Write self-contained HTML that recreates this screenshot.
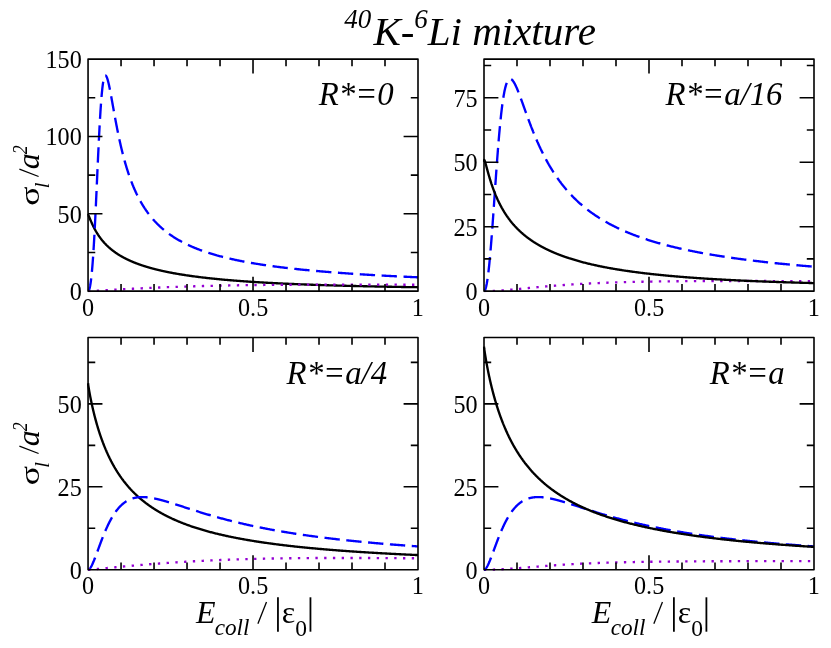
<!DOCTYPE html>
<html><head><meta charset="utf-8"><title>40K-6Li mixture</title>
<style>html,body{margin:0;padding:0;background:#fff}svg{display:block;will-change:transform}text{font-family:"Liberation Serif",serif;fill:#000}.i{font-style:italic}.t{font-size:26px}</style></head><body>
<svg width="831" height="648" viewBox="0 0 831 648">
<rect width="831" height="648" fill="#fff"/>
<clipPath id="c0"><rect x="86.85" y="57.9" width="332.35" height="234.45"/></clipPath>
<g clip-path="url(#c0)" fill="none" stroke-width="2.35" stroke-linejoin="round">
<path d="M88.05 215.49 L88.26 215.08 L88.46 215.38 L88.67 215.78 L88.88 216.23 L89.08 216.71 L89.29 217.2 L89.5 217.69 L89.7 218.19 L89.91 218.7 L90.12 219.19 L90.32 219.69 L90.53 220.19 L90.74 220.68 L90.94 221.16 L91.15 221.64 L91.36 222.12 L91.56 222.58 L91.77 223.05 L91.98 223.51 L92.18 223.96 L92.39 224.41 L92.6 224.85 L92.8 225.29 L93.01 225.72 L93.22 226.14 L93.43 226.56 L93.63 226.97 L93.84 227.38 L94.05 227.79 L94.25 228.18 L94.46 228.58 L94.67 228.97 L94.87 229.35 L95.08 229.73 L95.29 230.1 L95.49 230.47 L95.7 230.83 L95.91 231.19 L96.11 231.55 L96.32 231.9 L96.53 232.25 L96.73 232.59 L96.94 232.93 L97.15 233.26 L97.35 233.59 L97.56 233.92 L97.77 234.24 L97.97 234.56 L98.18 234.87 L98.39 235.18 L98.59 235.49 L98.8 235.79 L99.01 236.09 L99.21 236.39 L99.42 236.68 L99.63 236.97 L99.83 237.26 L100.04 237.54 L100.25 237.83 L100.45 238.1 L100.66 238.38 L100.87 238.65 L101.07 238.92 L101.28 239.18 L101.49 239.45 L101.69 239.71 L101.9 239.96 L102.11 240.22 L102.31 240.47 L102.52 240.72 L102.73 240.97 L102.93 241.21 L103.14 241.46 L103.35 241.7 L103.56 241.93 L103.76 242.17 L103.97 242.4 L104.18 242.63 L104.38 242.86 L104.59 243.09 L104.8 243.31 L105 243.53 L105.21 243.75 L105.42 243.97 L105.62 244.18 L105.83 244.4 L106.04 244.61 L106.24 244.82 L106.45 245.03 L106.66 245.23 L106.86 245.43 L107.07 245.64 L107.28 245.84 L107.48 246.04 L107.69 246.23 L107.9 246.43 L108.1 246.62 L108.31 246.81 L108.52 247 L108.72 247.19 L108.93 247.38 L109.14 247.56 L109.34 247.75 L109.55 247.93 L109.76 248.11 L109.96 248.29 L110.17 248.46 L110.38 248.64 L110.58 248.81 L110.79 248.99 L111 249.16 L111.2 249.33 L111.41 249.5 L111.62 249.67 L111.82 249.83 L112.03 250 L112.24 250.16 L112.44 250.32 L112.65 250.48 L112.86 250.64 L113.07 250.8 L113.27 250.96 L113.48 251.12 L113.69 251.27 L113.89 251.43 L114.1 251.58 L114.31 251.73 L114.51 251.88 L114.72 252.03 L114.93 252.18 L115.13 252.32 L115.34 252.47 L115.55 252.62 L115.75 252.76 L115.96 252.9 L116.17 253.04 L116.37 253.19 L116.58 253.33 L116.79 253.46 L116.99 253.6 L117.2 253.74 L117.41 253.87 L117.61 254.01 L117.82 254.14 L118.03 254.28 L118.23 254.41 L118.44 254.54 L118.65 254.67 L118.85 254.8 L119.06 254.93 L119.27 255.06 L119.47 255.18 L119.68 255.31 L119.89 255.43 L120.09 255.56 L120.3 255.68 L120.51 255.81 L120.71 255.93 L120.92 256.05 L121.13 256.17 L121.33 256.29 L121.54 256.41 L121.75 256.53 L121.95 256.64 L122.16 256.76 L122.37 256.88 L122.57 256.99 L122.78 257.1 L122.99 257.22 L123.2 257.33 L123.4 257.44 L123.61 257.55 L123.82 257.67 L124.02 257.78 L124.23 257.89 L124.44 257.99 L124.64 258.1 L124.85 258.21 L125.06 258.32 L125.26 258.42 L125.47 258.53 L125.68 258.63 L125.88 258.74 L126.09 258.84 L126.3 258.95 L126.5 259.05 L126.71 259.15 L126.92 259.25 L127.12 259.35 L127.33 259.45 L127.54 259.55 L127.74 259.65 L127.95 259.75 L128.16 259.85 L128.36 259.94 L128.57 260.04 L128.78 260.14 L128.98 260.23 L129.19 260.33 L129.4 260.42 L129.6 260.52 L129.81 260.61 L130.02 260.7 L130.22 260.8 L130.43 260.89 L130.64 260.98 L130.84 261.07 L131.05 261.16 L131.26 261.25 L131.46 261.34 L131.67 261.43 L131.88 261.52 L132.08 261.61 L132.29 261.69 L132.5 261.78 L132.7 261.87 L132.91 261.96 L133.12 262.04 L133.33 262.13 L133.53 262.21 L133.74 262.3 L133.95 262.38 L134.15 262.46 L134.36 262.55 L134.57 262.63 L134.77 262.71 L134.98 262.79 L135.19 262.88 L135.39 262.96 L135.6 263.04 L135.81 263.12 L136.01 263.2 L136.22 263.28 L136.43 263.36 L136.63 263.43 L136.84 263.51 L137.05 263.59 L137.25 263.67 L137.46 263.75 L137.67 263.82 L137.87 263.9 L138.08 263.97 L138.29 264.05 L138.49 264.13 L138.7 264.2 L138.91 264.27 L139.11 264.35 L139.32 264.42 L139.53 264.5 L139.73 264.57 L139.94 264.64 L140.15 264.71 L140.35 264.79 L140.56 264.86 L140.77 264.93 L140.97 265 L141.18 265.07 L141.39 265.14 L141.59 265.21 L141.8 265.28 L142.01 265.35 L142.21 265.42 L142.42 265.49 L142.63 265.56 L142.83 265.63 L143.04 265.69 L143.25 265.76 L143.46 265.83 L143.66 265.89 L143.87 265.96 L144.08 266.03 L144.28 266.09 L144.49 266.16 L144.7 266.22 L144.9 266.29 L145.11 266.35 L145.32 266.42 L145.52 266.48 L145.73 266.55 L145.94 266.61 L146.14 266.67 L146.35 266.74 L146.56 266.8 L146.76 266.86 L146.97 266.93 L147.18 266.99 L147.38 267.05 L147.59 267.11 L147.8 267.17 L148 267.23 L148.21 267.29 L148.42 267.35 L148.62 267.41 L148.83 267.47 L149.04 267.53 L149.24 267.59 L149.45 267.65 L149.66 267.71 L149.86 267.77 L150.07 267.83 L150.28 267.89 L150.48 267.94 L150.69 268 L150.9 268.06 L151.1 268.12 L151.31 268.17 L151.52 268.23 L151.72 268.29 L151.93 268.34 L152.14 268.4 L152.34 268.45 L152.55 268.51 L152.76 268.57 L152.96 268.62 L153.17 268.68 L153.38 268.73 L153.59 268.78 L153.79 268.84 L154 268.89 L154.21 268.95 L154.41 269 L154.62 269.05 L154.83 269.11 L155.03 269.16 L155.24 269.21 L155.45 269.27 L155.65 269.32 L155.86 269.37 L156.07 269.42 L156.27 269.47 L156.48 269.52 L156.69 269.58 L156.89 269.63 L157.1 269.68 L157.31 269.73 L157.51 269.78 L157.72 269.83 L157.93 269.88 L158.13 269.93 L158.34 269.98 L158.55 270.03 L158.75 270.08 L158.96 270.13 L159.17 270.18 L159.37 270.22 L159.58 270.27 L159.79 270.32 L159.99 270.37 L160.2 270.42 L160.41 270.47 L160.61 270.51 L160.82 270.56 L161.03 270.61 L161.23 270.65 L161.44 270.7 L161.65 270.75 L161.85 270.79 L162.06 270.84 L162.27 270.89 L162.47 270.93 L162.68 270.98 L162.89 271.03 L163.1 271.07 L163.3 271.12 L163.51 271.16 L163.72 271.21 L163.92 271.25 L164.13 271.3 L164.34 271.34 L164.54 271.38 L164.75 271.43 L164.96 271.47 L165.16 271.52 L165.37 271.56 L165.58 271.6 L165.78 271.65 L165.99 271.69 L166.2 271.73 L166.4 271.78 L166.61 271.82 L166.82 271.86 L167.02 271.91 L167.23 271.95 L167.44 271.99 L167.64 272.03 L167.85 272.07 L168.06 272.12 L168.26 272.16 L168.47 272.2 L168.68 272.24 L168.88 272.28 L169.09 272.32 L169.3 272.36 L169.5 272.4 L169.71 272.44 L169.92 272.48 L170.12 272.52 L170.33 272.56 L170.54 272.6 L171.37 272.76 L172.19 272.92 L173.02 273.07 L173.85 273.23 L174.68 273.38 L175.5 273.53 L176.33 273.67 L177.16 273.82 L177.99 273.96 L178.81 274.1 L179.64 274.24 L180.47 274.38 L181.3 274.51 L182.12 274.64 L182.95 274.78 L183.78 274.91 L184.61 275.03 L185.43 275.16 L186.26 275.29 L187.09 275.41 L187.92 275.53 L188.75 275.65 L189.57 275.77 L190.4 275.89 L191.23 276.01 L192.06 276.12 L192.88 276.24 L193.71 276.35 L194.54 276.46 L195.37 276.57 L196.19 276.68 L197.02 276.78 L197.85 276.89 L198.68 276.99 L199.5 277.1 L200.33 277.2 L201.16 277.3 L201.99 277.4 L202.82 277.5 L203.64 277.6 L204.47 277.69 L205.3 277.79 L206.13 277.88 L206.95 277.98 L207.78 278.07 L208.61 278.16 L209.44 278.25 L210.26 278.34 L211.09 278.43 L211.92 278.52 L212.75 278.6 L213.57 278.69 L214.4 278.77 L215.23 278.86 L216.06 278.94 L216.88 279.02 L217.71 279.1 L218.54 279.18 L219.37 279.26 L220.2 279.34 L221.02 279.42 L221.85 279.5 L222.68 279.57 L223.51 279.65 L224.33 279.72 L225.16 279.8 L225.99 279.87 L226.82 279.94 L227.64 280.01 L228.47 280.08 L229.3 280.15 L230.13 280.22 L230.95 280.29 L231.78 280.36 L232.61 280.43 L233.44 280.5 L234.27 280.56 L235.09 280.63 L235.92 280.69 L236.75 280.76 L237.58 280.82 L238.4 280.88 L239.23 280.95 L240.06 281.01 L240.89 281.07 L241.71 281.13 L242.54 281.19 L243.37 281.25 L244.2 281.31 L245.02 281.37 L245.85 281.43 L246.68 281.48 L247.51 281.54 L248.34 281.6 L249.16 281.65 L249.99 281.71 L250.82 281.76 L251.65 281.82 L252.47 281.87 L253.3 281.92 L254.13 281.98 L254.96 282.03 L255.78 282.08 L256.61 282.13 L257.44 282.18 L258.27 282.23 L259.09 282.28 L259.92 282.33 L260.75 282.38 L261.58 282.43 L262.4 282.48 L263.23 282.53 L264.06 282.57 L264.89 282.62 L265.72 282.67 L266.54 282.71 L267.37 282.76 L268.2 282.8 L269.03 282.85 L269.85 282.89 L270.68 282.94 L271.51 282.98 L272.34 283.03 L273.16 283.07 L273.99 283.11 L274.82 283.15 L275.65 283.2 L276.47 283.24 L277.3 283.28 L278.13 283.32 L278.96 283.36 L279.79 283.4 L280.61 283.44 L281.44 283.48 L282.27 283.52 L283.1 283.56 L283.92 283.6 L284.75 283.64 L285.58 283.67 L286.41 283.71 L287.23 283.75 L288.06 283.79 L288.89 283.82 L289.72 283.86 L290.54 283.89 L291.37 283.93 L292.2 283.97 L293.03 284 L293.85 284.04 L294.68 284.07 L295.51 284.11 L296.34 284.14 L297.17 284.17 L297.99 284.21 L298.82 284.24 L299.65 284.27 L300.48 284.31 L301.3 284.34 L302.13 284.37 L302.96 284.4 L303.79 284.44 L304.61 284.47 L305.44 284.5 L306.27 284.53 L307.1 284.56 L307.92 284.59 L308.75 284.62 L309.58 284.65 L310.41 284.68 L311.24 284.71 L312.06 284.74 L312.89 284.77 L313.72 284.8 L314.55 284.83 L315.37 284.86 L316.2 284.89 L317.03 284.91 L317.86 284.94 L318.68 284.97 L319.51 285 L320.34 285.03 L321.17 285.05 L321.99 285.08 L322.82 285.11 L323.65 285.13 L324.48 285.16 L325.31 285.19 L326.13 285.21 L326.96 285.24 L327.79 285.26 L328.62 285.29 L329.44 285.31 L330.27 285.34 L331.1 285.36 L331.93 285.39 L332.75 285.41 L333.58 285.44 L334.41 285.46 L335.24 285.49 L336.06 285.51 L336.89 285.53 L337.72 285.56 L338.55 285.58 L339.37 285.6 L340.2 285.63 L341.03 285.65 L341.86 285.67 L342.69 285.69 L343.51 285.72 L344.34 285.74 L345.17 285.76 L346 285.78 L346.82 285.81 L347.65 285.83 L348.48 285.85 L349.31 285.87 L350.13 285.89 L350.96 285.91 L351.79 285.93 L352.62 285.95 L353.44 285.97 L354.27 285.99 L355.1 286.01 L355.93 286.04 L356.76 286.06 L357.58 286.08 L358.41 286.09 L359.24 286.11 L360.07 286.13 L360.89 286.15 L361.72 286.17 L362.55 286.19 L363.38 286.21 L364.2 286.23 L365.03 286.25 L365.86 286.27 L366.69 286.29 L367.51 286.3 L368.34 286.32 L369.17 286.34 L370 286.36 L370.82 286.38 L371.65 286.39 L372.48 286.41 L373.31 286.43 L374.14 286.45 L374.96 286.46 L375.79 286.48 L376.62 286.5 L377.45 286.52 L378.27 286.53 L379.1 286.55 L379.93 286.57 L380.76 286.58 L381.58 286.6 L382.41 286.61 L383.24 286.63 L384.07 286.65 L384.89 286.66 L385.72 286.68 L386.55 286.7 L387.38 286.71 L388.21 286.73 L389.03 286.74 L389.86 286.76 L390.69 286.77 L391.52 286.79 L392.34 286.8 L393.17 286.82 L394 286.83 L394.83 286.85 L395.65 286.86 L396.48 286.88 L397.31 286.89 L398.14 286.91 L398.96 286.92 L399.79 286.94 L400.62 286.95 L401.45 286.96 L402.27 286.98 L403.1 286.99 L403.93 287.01 L404.76 287.02 L405.59 287.03 L406.41 287.05 L407.24 287.06 L408.07 287.07 L408.9 287.09 L409.72 287.1 L410.55 287.11 L411.38 287.13 L412.21 287.14 L413.03 287.15 L413.86 287.17 L414.69 287.18 L415.52 287.19 L416.34 287.2 L417.17 287.22 L418 287.23" stroke="#000"/>
<path d="M88.05 291.15 L88.26 291.1 L88.46 290.95 L88.67 290.7 L88.88 290.35 L89.08 289.89 L89.29 289.32 L89.5 288.64 L89.7 287.85 L89.91 286.94 L90.12 285.91 L90.32 284.76 L90.53 283.48 L90.74 282.08 L90.94 280.55 L91.15 278.89 L91.36 277.1 L91.56 275.17 L91.77 273.11 L91.98 270.91 L92.18 268.58 L92.39 266.1 L92.6 263.49 L92.8 260.74 L93.01 257.85 L93.22 254.83 L93.43 251.67 L93.63 248.38 L93.84 244.96 L94.05 241.42 L94.25 237.75 L94.46 233.97 L94.67 230.07 L94.87 226.07 L95.08 221.97 L95.29 217.78 L95.49 213.5 L95.7 209.15 L95.91 204.73 L96.11 200.26 L96.32 195.73 L96.53 191.17 L96.73 186.58 L96.94 181.98 L97.15 177.37 L97.35 172.77 L97.56 168.18 L97.77 163.63 L97.97 159.11 L98.18 154.65 L98.39 150.24 L98.59 145.91 L98.8 141.67 L99.01 137.51 L99.21 133.45 L99.42 129.51 L99.63 125.68 L99.83 121.97 L100.04 118.39 L100.25 114.95 L100.45 111.65 L100.66 108.49 L100.87 105.48 L101.07 102.62 L101.28 99.91 L101.49 97.35 L101.69 94.95 L101.9 92.7 L102.11 90.6 L102.31 88.66 L102.52 86.86 L102.73 85.22 L102.93 83.71 L103.14 82.35 L103.35 81.13 L103.56 80.04 L103.76 79.08 L103.97 78.25 L104.18 77.54 L104.38 76.95 L104.59 76.47 L104.8 76.1 L105 75.84 L105.21 75.67 L105.42 75.6 L105.62 75.62 L105.83 75.73 L106.04 75.92 L106.24 76.18 L106.45 76.52 L106.66 76.93 L106.86 77.4 L107.07 77.93 L107.28 78.52 L107.48 79.16 L107.69 79.85 L107.9 80.59 L108.1 81.37 L108.31 82.19 L108.52 83.04 L108.72 83.94 L108.93 84.86 L109.14 85.81 L109.34 86.79 L109.55 87.79 L109.76 88.81 L109.96 89.86 L110.17 90.92 L110.38 91.99 L110.58 93.09 L110.79 94.19 L111 95.3 L111.2 96.43 L111.41 97.56 L111.62 98.7 L111.82 99.84 L112.03 100.99 L112.24 102.14 L112.44 103.29 L112.65 104.45 L112.86 105.6 L113.07 106.76 L113.27 107.91 L113.48 109.07 L113.69 110.22 L113.89 111.36 L114.1 112.51 L114.31 113.65 L114.51 114.78 L114.72 115.91 L114.93 117.03 L115.13 118.15 L115.34 119.26 L115.55 120.37 L115.75 121.47 L115.96 122.56 L116.17 123.64 L116.37 124.72 L116.58 125.79 L116.79 126.85 L116.99 127.9 L117.2 128.95 L117.41 129.99 L117.61 131.02 L117.82 132.04 L118.03 133.05 L118.23 134.05 L118.44 135.05 L118.65 136.03 L118.85 137.01 L119.06 137.98 L119.27 138.94 L119.47 139.89 L119.68 140.83 L119.89 141.76 L120.09 142.69 L120.3 143.61 L120.51 144.51 L120.71 145.41 L120.92 146.3 L121.13 147.18 L121.33 148.06 L121.54 148.92 L121.75 149.78 L121.95 150.63 L122.16 151.47 L122.37 152.3 L122.57 153.12 L122.78 153.94 L122.99 154.75 L123.2 155.54 L123.4 156.34 L123.61 157.12 L123.82 157.9 L124.02 158.66 L124.23 159.43 L124.44 160.18 L124.64 160.92 L124.85 161.66 L125.06 162.39 L125.26 163.12 L125.47 163.83 L125.68 164.54 L125.88 165.25 L126.09 165.94 L126.3 166.63 L126.5 167.31 L126.71 167.99 L126.92 168.66 L127.12 169.32 L127.33 169.98 L127.54 170.63 L127.74 171.27 L127.95 171.91 L128.16 172.54 L128.36 173.16 L128.57 173.78 L128.78 174.39 L128.98 175 L129.19 175.6 L129.4 176.2 L129.6 176.79 L129.81 177.37 L130.02 177.95 L130.22 178.52 L130.43 179.09 L130.64 179.65 L130.84 180.21 L131.05 180.76 L131.26 181.31 L131.46 181.85 L131.67 182.39 L131.88 182.92 L132.08 183.44 L132.29 183.97 L132.5 184.48 L132.7 185 L132.91 185.5 L133.12 186.01 L133.33 186.5 L133.53 187 L133.74 187.49 L133.95 187.97 L134.15 188.45 L134.36 188.93 L134.57 189.4 L134.77 189.87 L134.98 190.34 L135.19 190.8 L135.39 191.25 L135.6 191.7 L135.81 192.15 L136.01 192.6 L136.22 193.04 L136.43 193.47 L136.63 193.91 L136.84 194.33 L137.05 194.76 L137.25 195.18 L137.46 195.6 L137.67 196.01 L137.87 196.43 L138.08 196.83 L138.29 197.24 L138.49 197.64 L138.7 198.04 L138.91 198.43 L139.11 198.82 L139.32 199.21 L139.53 199.59 L139.73 199.98 L139.94 200.35 L140.15 200.73 L140.35 201.1 L140.56 201.47 L140.77 201.84 L140.97 202.2 L141.18 202.56 L141.39 202.92 L141.59 203.27 L141.8 203.63 L142.01 203.98 L142.21 204.32 L142.42 204.67 L142.63 205.01 L142.83 205.34 L143.04 205.68 L143.25 206.01 L143.46 206.34 L143.66 206.67 L143.87 207 L144.08 207.32 L144.28 207.64 L144.49 207.96 L144.7 208.28 L144.9 208.59 L145.11 208.9 L145.32 209.21 L145.52 209.52 L145.73 209.82 L145.94 210.12 L146.14 210.42 L146.35 210.72 L146.56 211.02 L146.76 211.31 L146.97 211.6 L147.18 211.89 L147.38 212.18 L147.59 212.46 L147.8 212.74 L148 213.02 L148.21 213.3 L148.42 213.58 L148.62 213.86 L148.83 214.13 L149.04 214.4 L149.24 214.67 L149.45 214.94 L149.66 215.2 L149.86 215.46 L150.07 215.73 L150.28 215.99 L150.48 216.24 L150.69 216.5 L150.9 216.75 L151.1 217.01 L151.31 217.26 L151.52 217.51 L151.72 217.76 L151.93 218 L152.14 218.25 L152.34 218.49 L152.55 218.73 L152.76 218.97 L152.96 219.21 L153.17 219.44 L153.38 219.68 L153.59 219.91 L153.79 220.14 L154 220.38 L154.21 220.6 L154.41 220.83 L154.62 221.06 L154.83 221.28 L155.03 221.5 L155.24 221.73 L155.45 221.95 L155.65 222.17 L155.86 222.38 L156.07 222.6 L156.27 222.81 L156.48 223.03 L156.69 223.24 L156.89 223.45 L157.1 223.66 L157.31 223.87 L157.51 224.07 L157.72 224.28 L157.93 224.48 L158.13 224.69 L158.34 224.89 L158.55 225.09 L158.75 225.29 L158.96 225.48 L159.17 225.68 L159.37 225.88 L159.58 226.07 L159.79 226.26 L159.99 226.46 L160.2 226.65 L160.41 226.84 L160.61 227.03 L160.82 227.21 L161.03 227.4 L161.23 227.59 L161.44 227.77 L161.65 227.95 L161.85 228.14 L162.06 228.32 L162.27 228.5 L162.47 228.68 L162.68 228.85 L162.89 229.03 L163.1 229.21 L163.3 229.38 L163.51 229.56 L163.72 229.73 L163.92 229.9 L164.13 230.07 L164.34 230.24 L164.54 230.41 L164.75 230.58 L164.96 230.75 L165.16 230.91 L165.37 231.08 L165.58 231.24 L165.78 231.41 L165.99 231.57 L166.2 231.73 L166.4 231.89 L166.61 232.05 L166.82 232.21 L167.02 232.37 L167.23 232.53 L167.44 232.68 L167.64 232.84 L167.85 232.99 L168.06 233.15 L168.26 233.3 L168.47 233.45 L168.68 233.6 L168.88 233.76 L169.09 233.91 L169.3 234.05 L169.5 234.2 L169.71 234.35 L169.92 234.5 L170.12 234.64 L170.33 234.79 L170.54 234.93 L171.37 235.5 L172.19 236.06 L173.02 236.61 L173.85 237.15 L174.68 237.68 L175.5 238.19 L176.33 238.7 L177.16 239.2 L177.99 239.68 L178.81 240.16 L179.64 240.63 L180.47 241.09 L181.3 241.54 L182.12 241.99 L182.95 242.42 L183.78 242.85 L184.61 243.27 L185.43 243.68 L186.26 244.09 L187.09 244.49 L187.92 244.88 L188.75 245.27 L189.57 245.65 L190.4 246.02 L191.23 246.39 L192.06 246.75 L192.88 247.1 L193.71 247.45 L194.54 247.79 L195.37 248.13 L196.19 248.46 L197.02 248.79 L197.85 249.11 L198.68 249.43 L199.5 249.74 L200.33 250.05 L201.16 250.36 L201.99 250.65 L202.82 250.95 L203.64 251.24 L204.47 251.53 L205.3 251.81 L206.13 252.09 L206.95 252.36 L207.78 252.63 L208.61 252.9 L209.44 253.16 L210.26 253.42 L211.09 253.67 L211.92 253.92 L212.75 254.17 L213.57 254.42 L214.4 254.66 L215.23 254.9 L216.06 255.13 L216.88 255.37 L217.71 255.59 L218.54 255.82 L219.37 256.04 L220.2 256.27 L221.02 256.48 L221.85 256.7 L222.68 256.91 L223.51 257.12 L224.33 257.33 L225.16 257.53 L225.99 257.74 L226.82 257.94 L227.64 258.13 L228.47 258.33 L229.3 258.52 L230.13 258.71 L230.95 258.9 L231.78 259.09 L232.61 259.27 L233.44 259.45 L234.27 259.63 L235.09 259.81 L235.92 259.98 L236.75 260.16 L237.58 260.33 L238.4 260.5 L239.23 260.67 L240.06 260.83 L240.89 261 L241.71 261.16 L242.54 261.32 L243.37 261.48 L244.2 261.64 L245.02 261.79 L245.85 261.95 L246.68 262.1 L247.51 262.25 L248.34 262.4 L249.16 262.55 L249.99 262.69 L250.82 262.84 L251.65 262.98 L252.47 263.12 L253.3 263.26 L254.13 263.4 L254.96 263.54 L255.78 263.68 L256.61 263.81 L257.44 263.94 L258.27 264.08 L259.09 264.21 L259.92 264.34 L260.75 264.47 L261.58 264.59 L262.4 264.72 L263.23 264.84 L264.06 264.97 L264.89 265.09 L265.72 265.21 L266.54 265.33 L267.37 265.45 L268.2 265.57 L269.03 265.69 L269.85 265.8 L270.68 265.92 L271.51 266.03 L272.34 266.14 L273.16 266.26 L273.99 266.37 L274.82 266.48 L275.65 266.59 L276.47 266.69 L277.3 266.8 L278.13 266.91 L278.96 267.01 L279.79 267.12 L280.61 267.22 L281.44 267.32 L282.27 267.42 L283.1 267.53 L283.92 267.63 L284.75 267.72 L285.58 267.82 L286.41 267.92 L287.23 268.02 L288.06 268.11 L288.89 268.21 L289.72 268.3 L290.54 268.4 L291.37 268.49 L292.2 268.58 L293.03 268.67 L293.85 268.76 L294.68 268.85 L295.51 268.94 L296.34 269.03 L297.17 269.12 L297.99 269.21 L298.82 269.29 L299.65 269.38 L300.48 269.46 L301.3 269.55 L302.13 269.63 L302.96 269.71 L303.79 269.8 L304.61 269.88 L305.44 269.96 L306.27 270.04 L307.1 270.12 L307.92 270.2 L308.75 270.28 L309.58 270.36 L310.41 270.44 L311.24 270.51 L312.06 270.59 L312.89 270.67 L313.72 270.74 L314.55 270.82 L315.37 270.89 L316.2 270.97 L317.03 271.04 L317.86 271.11 L318.68 271.18 L319.51 271.26 L320.34 271.33 L321.17 271.4 L321.99 271.47 L322.82 271.54 L323.65 271.61 L324.48 271.68 L325.31 271.75 L326.13 271.81 L326.96 271.88 L327.79 271.95 L328.62 272.02 L329.44 272.08 L330.27 272.15 L331.1 272.21 L331.93 272.28 L332.75 272.34 L333.58 272.41 L334.41 272.47 L335.24 272.53 L336.06 272.6 L336.89 272.66 L337.72 272.72 L338.55 272.78 L339.37 272.84 L340.2 272.91 L341.03 272.97 L341.86 273.03 L342.69 273.09 L343.51 273.15 L344.34 273.2 L345.17 273.26 L346 273.32 L346.82 273.38 L347.65 273.44 L348.48 273.49 L349.31 273.55 L350.13 273.61 L350.96 273.66 L351.79 273.72 L352.62 273.77 L353.44 273.83 L354.27 273.88 L355.1 273.94 L355.93 273.99 L356.76 274.05 L357.58 274.1 L358.41 274.15 L359.24 274.21 L360.07 274.26 L360.89 274.31 L361.72 274.36 L362.55 274.42 L363.38 274.47 L364.2 274.52 L365.03 274.57 L365.86 274.62 L366.69 274.67 L367.51 274.72 L368.34 274.77 L369.17 274.82 L370 274.87 L370.82 274.92 L371.65 274.97 L372.48 275.01 L373.31 275.06 L374.14 275.11 L374.96 275.16 L375.79 275.2 L376.62 275.25 L377.45 275.3 L378.27 275.34 L379.1 275.39 L379.93 275.44 L380.76 275.48 L381.58 275.53 L382.41 275.57 L383.24 275.62 L384.07 275.66 L384.89 275.71 L385.72 275.75 L386.55 275.8 L387.38 275.84 L388.21 275.88 L389.03 275.93 L389.86 275.97 L390.69 276.01 L391.52 276.05 L392.34 276.1 L393.17 276.14 L394 276.18 L394.83 276.22 L395.65 276.26 L396.48 276.31 L397.31 276.35 L398.14 276.39 L398.96 276.43 L399.79 276.47 L400.62 276.51 L401.45 276.55 L402.27 276.59 L403.1 276.63 L403.93 276.67 L404.76 276.71 L405.59 276.75 L406.41 276.79 L407.24 276.83 L408.07 276.86 L408.9 276.9 L409.72 276.94 L410.55 276.98 L411.38 277.02 L412.21 277.05 L413.03 277.09 L413.86 277.13 L414.69 277.17 L415.52 277.2 L416.34 277.24 L417.17 277.28 L418 277.31" stroke="#0000ff" stroke-dasharray="15.33 6.57" stroke-dashoffset="2"/>
<path d="M88.05 291.15 L88.26 291.15 L88.46 291.15 L88.67 291.15 L88.88 291.14 L89.08 291.14 L89.29 291.13 L89.5 291.13 L89.7 291.12 L89.91 291.11 L90.12 291.11 L90.32 291.1 L90.53 291.09 L90.74 291.08 L90.94 291.08 L91.15 291.07 L91.36 291.06 L91.56 291.05 L91.77 291.04 L91.98 291.03 L92.18 291.02 L92.39 291.01 L92.6 291 L92.8 290.99 L93.01 290.98 L93.22 290.97 L93.43 290.96 L93.63 290.95 L93.84 290.94 L94.05 290.93 L94.25 290.92 L94.46 290.91 L94.67 290.9 L94.87 290.88 L95.08 290.87 L95.29 290.86 L95.49 290.85 L95.7 290.84 L95.91 290.83 L96.11 290.82 L96.32 290.8 L96.53 290.79 L96.73 290.78 L96.94 290.77 L97.15 290.76 L97.35 290.75 L97.56 290.73 L97.77 290.72 L97.97 290.71 L98.18 290.7 L98.39 290.69 L98.59 290.68 L98.8 290.66 L99.01 290.65 L99.21 290.64 L99.42 290.63 L99.63 290.62 L99.83 290.6 L100.04 290.59 L100.25 290.58 L100.45 290.57 L100.66 290.56 L100.87 290.54 L101.07 290.53 L101.28 290.52 L101.49 290.51 L101.69 290.49 L101.9 290.48 L102.11 290.47 L102.31 290.46 L102.52 290.45 L102.73 290.43 L102.93 290.42 L103.14 290.41 L103.35 290.4 L103.56 290.39 L103.76 290.37 L103.97 290.36 L104.18 290.35 L104.38 290.34 L104.59 290.32 L104.8 290.31 L105 290.3 L105.21 290.29 L105.42 290.28 L105.62 290.26 L105.83 290.25 L106.04 290.24 L106.24 290.23 L106.45 290.22 L106.66 290.2 L106.86 290.19 L107.07 290.18 L107.28 290.17 L107.48 290.15 L107.69 290.14 L107.9 290.13 L108.1 290.12 L108.31 290.11 L108.52 290.09 L108.72 290.08 L108.93 290.07 L109.14 290.06 L109.34 290.05 L109.55 290.03 L109.76 290.02 L109.96 290.01 L110.17 290 L110.38 289.99 L110.58 289.97 L110.79 289.96 L111 289.95 L111.2 289.94 L111.41 289.93 L111.62 289.91 L111.82 289.9 L112.03 289.89 L112.24 289.88 L112.44 289.87 L112.65 289.85 L112.86 289.84 L113.07 289.83 L113.27 289.82 L113.48 289.81 L113.69 289.79 L113.89 289.78 L114.1 289.77 L114.31 289.76 L114.51 289.75 L114.72 289.73 L114.93 289.72 L115.13 289.71 L115.34 289.7 L115.55 289.69 L115.75 289.68 L115.96 289.66 L116.17 289.65 L116.37 289.64 L116.58 289.63 L116.79 289.62 L116.99 289.6 L117.2 289.59 L117.41 289.58 L117.61 289.57 L117.82 289.56 L118.03 289.55 L118.23 289.53 L118.44 289.52 L118.65 289.51 L118.85 289.5 L119.06 289.49 L119.27 289.48 L119.47 289.47 L119.68 289.45 L119.89 289.44 L120.09 289.43 L120.3 289.42 L120.51 289.41 L120.71 289.4 L120.92 289.38 L121.13 289.37 L121.33 289.36 L121.54 289.35 L121.75 289.34 L121.95 289.33 L122.16 289.32 L122.37 289.3 L122.57 289.29 L122.78 289.28 L122.99 289.27 L123.2 289.26 L123.4 289.25 L123.61 289.24 L123.82 289.23 L124.02 289.21 L124.23 289.2 L124.44 289.19 L124.64 289.18 L124.85 289.17 L125.06 289.16 L125.26 289.15 L125.47 289.14 L125.68 289.12 L125.88 289.11 L126.09 289.1 L126.3 289.09 L126.5 289.08 L126.71 289.07 L126.92 289.06 L127.12 289.05 L127.33 289.04 L127.54 289.02 L127.74 289.01 L127.95 289 L128.16 288.99 L128.36 288.98 L128.57 288.97 L128.78 288.96 L128.98 288.95 L129.19 288.94 L129.4 288.93 L129.6 288.92 L129.81 288.9 L130.02 288.89 L130.22 288.88 L130.43 288.87 L130.64 288.86 L130.84 288.85 L131.05 288.84 L131.26 288.83 L131.46 288.82 L131.67 288.81 L131.88 288.8 L132.08 288.79 L132.29 288.77 L132.5 288.76 L132.7 288.75 L132.91 288.74 L133.12 288.73 L133.33 288.72 L133.53 288.71 L133.74 288.7 L133.95 288.69 L134.15 288.68 L134.36 288.67 L134.57 288.66 L134.77 288.65 L134.98 288.64 L135.19 288.63 L135.39 288.62 L135.6 288.61 L135.81 288.6 L136.01 288.58 L136.22 288.57 L136.43 288.56 L136.63 288.55 L136.84 288.54 L137.05 288.53 L137.25 288.52 L137.46 288.51 L137.67 288.5 L137.87 288.49 L138.08 288.48 L138.29 288.47 L138.49 288.46 L138.7 288.45 L138.91 288.44 L139.11 288.43 L139.32 288.42 L139.53 288.41 L139.73 288.4 L139.94 288.39 L140.15 288.38 L140.35 288.37 L140.56 288.36 L140.77 288.35 L140.97 288.34 L141.18 288.33 L141.39 288.32 L141.59 288.31 L141.8 288.3 L142.01 288.29 L142.21 288.28 L142.42 288.27 L142.63 288.26 L142.83 288.25 L143.04 288.24 L143.25 288.23 L143.46 288.22 L143.66 288.21 L143.87 288.2 L144.08 288.19 L144.28 288.18 L144.49 288.17 L144.7 288.16 L144.9 288.15 L145.11 288.14 L145.32 288.13 L145.52 288.12 L145.73 288.11 L145.94 288.1 L146.14 288.09 L146.35 288.08 L146.56 288.07 L146.76 288.06 L146.97 288.06 L147.18 288.05 L147.38 288.04 L147.59 288.03 L147.8 288.02 L148 288.01 L148.21 288 L148.42 287.99 L148.62 287.98 L148.83 287.97 L149.04 287.96 L149.24 287.95 L149.45 287.94 L149.66 287.93 L149.86 287.92 L150.07 287.91 L150.28 287.9 L150.48 287.89 L150.69 287.89 L150.9 287.88 L151.1 287.87 L151.31 287.86 L151.52 287.85 L151.72 287.84 L151.93 287.83 L152.14 287.82 L152.34 287.81 L152.55 287.8 L152.76 287.79 L152.96 287.78 L153.17 287.78 L153.38 287.77 L153.59 287.76 L153.79 287.75 L154 287.74 L154.21 287.73 L154.41 287.72 L154.62 287.71 L154.83 287.7 L155.03 287.69 L155.24 287.69 L155.45 287.68 L155.65 287.67 L155.86 287.66 L156.07 287.65 L156.27 287.64 L156.48 287.63 L156.69 287.62 L156.89 287.61 L157.1 287.61 L157.31 287.6 L157.51 287.59 L157.72 287.58 L157.93 287.57 L158.13 287.56 L158.34 287.55 L158.55 287.54 L158.75 287.54 L158.96 287.53 L159.17 287.52 L159.37 287.51 L159.58 287.5 L159.79 287.49 L159.99 287.48 L160.2 287.48 L160.41 287.47 L160.61 287.46 L160.82 287.45 L161.03 287.44 L161.23 287.43 L161.44 287.42 L161.65 287.42 L161.85 287.41 L162.06 287.4 L162.27 287.39 L162.47 287.38 L162.68 287.37 L162.89 287.37 L163.1 287.36 L163.3 287.35 L163.51 287.34 L163.72 287.33 L163.92 287.32 L164.13 287.32 L164.34 287.31 L164.54 287.3 L164.75 287.29 L164.96 287.28 L165.16 287.28 L165.37 287.27 L165.58 287.26 L165.78 287.25 L165.99 287.24 L166.2 287.23 L166.4 287.23 L166.61 287.22 L166.82 287.21 L167.02 287.2 L167.23 287.19 L167.44 287.19 L167.64 287.18 L167.85 287.17 L168.06 287.16 L168.26 287.15 L168.47 287.15 L168.68 287.14 L168.88 287.13 L169.09 287.12 L169.3 287.12 L169.5 287.11 L169.71 287.1 L169.92 287.09 L170.12 287.08 L170.33 287.08 L170.54 287.07 L171.37 287.04 L172.19 287.01 L173.02 286.98 L173.85 286.95 L174.68 286.92 L175.5 286.89 L176.33 286.86 L177.16 286.83 L177.99 286.8 L178.81 286.77 L179.64 286.74 L180.47 286.71 L181.3 286.69 L182.12 286.66 L182.95 286.63 L183.78 286.6 L184.61 286.58 L185.43 286.55 L186.26 286.52 L187.09 286.5 L187.92 286.47 L188.75 286.45 L189.57 286.42 L190.4 286.4 L191.23 286.37 L192.06 286.35 L192.88 286.32 L193.71 286.3 L194.54 286.27 L195.37 286.25 L196.19 286.23 L197.02 286.2 L197.85 286.18 L198.68 286.16 L199.5 286.13 L200.33 286.11 L201.16 286.09 L201.99 286.07 L202.82 286.04 L203.64 286.02 L204.47 286 L205.3 285.98 L206.13 285.96 L206.95 285.94 L207.78 285.92 L208.61 285.9 L209.44 285.88 L210.26 285.86 L211.09 285.84 L211.92 285.82 L212.75 285.8 L213.57 285.78 L214.4 285.76 L215.23 285.74 L216.06 285.72 L216.88 285.7 L217.71 285.69 L218.54 285.67 L219.37 285.65 L220.2 285.63 L221.02 285.62 L221.85 285.6 L222.68 285.58 L223.51 285.56 L224.33 285.55 L225.16 285.53 L225.99 285.52 L226.82 285.5 L227.64 285.48 L228.47 285.47 L229.3 285.45 L230.13 285.44 L230.95 285.42 L231.78 285.41 L232.61 285.39 L233.44 285.38 L234.27 285.36 L235.09 285.35 L235.92 285.33 L236.75 285.32 L237.58 285.31 L238.4 285.29 L239.23 285.28 L240.06 285.27 L240.89 285.25 L241.71 285.24 L242.54 285.23 L243.37 285.22 L244.2 285.2 L245.02 285.19 L245.85 285.18 L246.68 285.17 L247.51 285.16 L248.34 285.14 L249.16 285.13 L249.99 285.12 L250.82 285.11 L251.65 285.1 L252.47 285.09 L253.3 285.08 L254.13 285.07 L254.96 285.06 L255.78 285.05 L256.61 285.04 L257.44 285.03 L258.27 285.02 L259.09 285.01 L259.92 285 L260.75 284.99 L261.58 284.98 L262.4 284.97 L263.23 284.96 L264.06 284.95 L264.89 284.94 L265.72 284.93 L266.54 284.93 L267.37 284.92 L268.2 284.91 L269.03 284.9 L269.85 284.89 L270.68 284.88 L271.51 284.88 L272.34 284.87 L273.16 284.86 L273.99 284.85 L274.82 284.85 L275.65 284.84 L276.47 284.83 L277.3 284.83 L278.13 284.82 L278.96 284.81 L279.79 284.81 L280.61 284.8 L281.44 284.79 L282.27 284.79 L283.1 284.78 L283.92 284.78 L284.75 284.77 L285.58 284.76 L286.41 284.76 L287.23 284.75 L288.06 284.75 L288.89 284.74 L289.72 284.74 L290.54 284.73 L291.37 284.73 L292.2 284.72 L293.03 284.72 L293.85 284.71 L294.68 284.71 L295.51 284.7 L296.34 284.7 L297.17 284.7 L297.99 284.69 L298.82 284.69 L299.65 284.68 L300.48 284.68 L301.3 284.68 L302.13 284.67 L302.96 284.67 L303.79 284.66 L304.61 284.66 L305.44 284.66 L306.27 284.65 L307.1 284.65 L307.92 284.65 L308.75 284.64 L309.58 284.64 L310.41 284.64 L311.24 284.64 L312.06 284.63 L312.89 284.63 L313.72 284.63 L314.55 284.63 L315.37 284.62 L316.2 284.62 L317.03 284.62 L317.86 284.62 L318.68 284.61 L319.51 284.61 L320.34 284.61 L321.17 284.61 L321.99 284.61 L322.82 284.61 L323.65 284.6 L324.48 284.6 L325.31 284.6 L326.13 284.6 L326.96 284.6 L327.79 284.6 L328.62 284.6 L329.44 284.59 L330.27 284.59 L331.1 284.59 L331.93 284.59 L332.75 284.59 L333.58 284.59 L334.41 284.59 L335.24 284.59 L336.06 284.59 L336.89 284.59 L337.72 284.59 L338.55 284.59 L339.37 284.59 L340.2 284.59 L341.03 284.59 L341.86 284.59 L342.69 284.59 L343.51 284.59 L344.34 284.59 L345.17 284.59 L346 284.59 L346.82 284.59 L347.65 284.59 L348.48 284.59 L349.31 284.59 L350.13 284.59 L350.96 284.59 L351.79 284.59 L352.62 284.59 L353.44 284.59 L354.27 284.59 L355.1 284.59 L355.93 284.59 L356.76 284.59 L357.58 284.59 L358.41 284.59 L359.24 284.59 L360.07 284.6 L360.89 284.6 L361.72 284.6 L362.55 284.6 L363.38 284.6 L364.2 284.6 L365.03 284.6 L365.86 284.6 L366.69 284.6 L367.51 284.61 L368.34 284.61 L369.17 284.61 L370 284.61 L370.82 284.61 L371.65 284.61 L372.48 284.62 L373.31 284.62 L374.14 284.62 L374.96 284.62 L375.79 284.62 L376.62 284.62 L377.45 284.63 L378.27 284.63 L379.1 284.63 L379.93 284.63 L380.76 284.63 L381.58 284.64 L382.41 284.64 L383.24 284.64 L384.07 284.64 L384.89 284.64 L385.72 284.65 L386.55 284.65 L387.38 284.65 L388.21 284.65 L389.03 284.66 L389.86 284.66 L390.69 284.66 L391.52 284.66 L392.34 284.67 L393.17 284.67 L394 284.67 L394.83 284.67 L395.65 284.68 L396.48 284.68 L397.31 284.68 L398.14 284.68 L398.96 284.69 L399.79 284.69 L400.62 284.69 L401.45 284.69 L402.27 284.7 L403.1 284.7 L403.93 284.7 L404.76 284.71 L405.59 284.71 L406.41 284.71 L407.24 284.71 L408.07 284.72 L408.9 284.72 L409.72 284.72 L410.55 284.73 L411.38 284.73 L412.21 284.73 L413.03 284.74 L413.86 284.74 L414.69 284.74 L415.52 284.75 L416.34 284.75 L417.17 284.75 L418 284.76" stroke="#9400d3" stroke-dasharray="2.35 6.41" stroke-dashoffset="0"/>
</g>
<path d="M121.04 291.15 v-7.2 M121.04 59.1 v7.2 M154.04 291.15 v-7.2 M154.04 59.1 v7.2 M187.03 291.15 v-7.2 M187.03 59.1 v7.2 M220.03 291.15 v-7.2 M220.03 59.1 v7.2 M253.02 291.15 v-14.4 M253.02 59.1 v14.4 M286.02 291.15 v-7.2 M286.02 59.1 v7.2 M319.01 291.15 v-7.2 M319.01 59.1 v7.2 M352.01 291.15 v-7.2 M352.01 59.1 v7.2 M385 291.15 v-7.2 M385 59.1 v7.2 M88.05 213.8 h14.4 M418 213.8 h-14.4 M88.05 136.45 h14.4 M418 136.45 h-14.4 M88.05 252.47 h7.2 M418 252.47 h-7.2 M88.05 175.12 h7.2 M418 175.12 h-7.2 M88.05 97.78 h7.2 M418 97.78 h-7.2" stroke="#000" stroke-width="1.6" fill="none"/>
<rect x="88.05" y="59.1" width="329.95" height="232.05" fill="none" stroke="#000" stroke-width="1.6" stroke-linejoin="round"/>
<text font-size="26" transform="translate(70.55 300) scale(0.930 1)" x="-0.99" y="0">0</text>
<text font-size="26" transform="translate(58.95 222.65) scale(0.930 1)" x="-1.51" y="0">50</text>
<text font-size="26" transform="translate(47.58 145.3) scale(0.930 1)" x="-2.29" y="0">100</text>
<text font-size="26" transform="translate(47.58 67.95) scale(0.930 1)" x="-2.29" y="0">150</text>
<text font-size="26" transform="translate(83.03 315.55) scale(0.930 1)" x="-0.99" y="0">0</text>
<text font-size="26" transform="translate(238.95 315.55) scale(0.930 1)" x="-0.99" y="0">0.5</text>
<text font-size="26" transform="translate(413.84 315.55) scale(0.930 1)" x="-2.29" y="0">1</text>
<clipPath id="c1"><rect x="482.8" y="57.9" width="332.4" height="234.45"/></clipPath>
<g clip-path="url(#c1)" fill="none" stroke-width="2.35" stroke-linejoin="round">
<path d="M484 291.15 L484.21 291.15 L484.41 291.15 L484.62 291.15 L484.83 291.15 L485.03 291.15 L485.24 291.15 L485.45 291.14 L485.65 291.14 L485.86 291.14 L486.07 291.14 L486.27 291.14 L486.48 291.13 L486.69 291.13 L486.89 291.13 L487.1 291.12 L487.31 291.12 L487.52 291.12 L487.72 291.11 L487.93 291.11 L488.14 291.1 L488.34 291.1 L488.55 291.09 L488.76 291.09 L488.96 291.08 L489.17 291.08 L489.38 291.07 L489.58 291.07 L489.79 291.06 L490 291.05 L490.2 291.05 L490.41 291.04 L490.62 291.03 L490.82 291.03 L491.03 291.02 L491.24 291.01 L491.44 291.01 L491.65 291 L491.86 290.99 L492.06 290.98 L492.27 290.97 L492.48 290.96 L492.68 290.96 L492.89 290.95 L493.1 290.94 L493.3 290.93 L493.51 290.92 L493.72 290.91 L493.92 290.9 L494.13 290.89 L494.34 290.88 L494.55 290.87 L494.75 290.86 L494.96 290.85 L495.17 290.84 L495.37 290.83 L495.58 290.82 L495.79 290.81 L495.99 290.8 L496.2 290.78 L496.41 290.77 L496.61 290.76 L496.82 290.75 L497.03 290.74 L497.23 290.73 L497.44 290.71 L497.65 290.7 L497.85 290.69 L498.06 290.68 L498.27 290.66 L498.47 290.65 L498.68 290.64 L498.89 290.62 L499.09 290.61 L499.3 290.6 L499.51 290.58 L499.71 290.57 L499.92 290.56 L500.13 290.54 L500.33 290.53 L500.54 290.51 L500.75 290.5 L500.95 290.49 L501.16 290.47 L501.37 290.46 L501.58 290.44 L501.78 290.43 L501.99 290.41 L502.2 290.4 L502.4 290.38 L502.61 290.37 L502.82 290.35 L503.02 290.34 L503.23 290.32 L503.44 290.31 L503.64 290.29 L503.85 290.27 L504.06 290.26 L504.26 290.24 L504.47 290.23 L504.68 290.21 L504.88 290.19 L505.09 290.18 L505.3 290.16 L505.5 290.14 L505.71 290.13 L505.92 290.11 L506.12 290.09 L506.33 290.08 L506.54 290.06 L506.74 290.04 L506.95 290.03 L507.16 290.01 L507.36 289.99 L507.57 289.98 L507.78 289.96 L507.98 289.94 L508.19 289.92 L508.4 289.91 L508.61 289.89 L508.81 289.87 L509.02 289.85 L509.23 289.83 L509.43 289.82 L509.64 289.8 L509.85 289.78 L510.05 289.76 L510.26 289.74 L510.47 289.73 L510.67 289.71 L510.88 289.69 L511.09 289.67 L511.29 289.65 L511.5 289.64 L511.71 289.62 L511.91 289.6 L512.12 289.58 L512.33 289.56 L512.53 289.54 L512.74 289.52 L512.95 289.51 L513.15 289.49 L513.36 289.47 L513.57 289.45 L513.77 289.43 L513.98 289.41 L514.19 289.39 L514.39 289.37 L514.6 289.35 L514.81 289.33 L515.02 289.32 L515.22 289.3 L515.43 289.28 L515.64 289.26 L515.84 289.24 L516.05 289.22 L516.26 289.2 L516.46 289.18 L516.67 289.16 L516.88 289.14 L517.08 289.12 L517.29 289.1 L517.5 289.08 L517.7 289.06 L517.91 289.04 L518.12 289.02 L518.32 289.01 L518.53 288.99 L518.74 288.97 L518.94 288.95 L519.15 288.93 L519.36 288.91 L519.56 288.89 L519.77 288.87 L519.98 288.85 L520.18 288.83 L520.39 288.81 L520.6 288.79 L520.8 288.77 L521.01 288.75 L521.22 288.73 L521.42 288.71 L521.63 288.69 L521.84 288.67 L522.05 288.65 L522.25 288.63 L522.46 288.61 L522.67 288.59 L522.87 288.57 L523.08 288.55 L523.29 288.53 L523.49 288.51 L523.7 288.49 L523.91 288.47 L524.11 288.45 L524.32 288.43 L524.53 288.41 L524.73 288.39 L524.94 288.37 L525.15 288.35 L525.35 288.33 L525.56 288.31 L525.77 288.29 L525.97 288.27 L526.18 288.25 L526.39 288.23 L526.59 288.21 L526.8 288.19 L527.01 288.17 L527.21 288.15 L527.42 288.13 L527.63 288.11 L527.83 288.09 L528.04 288.07 L528.25 288.05 L528.45 288.03 L528.66 288.01 L528.87 287.99 L529.08 287.97 L529.28 287.95 L529.49 287.94 L529.7 287.92 L529.9 287.9 L530.11 287.88 L530.32 287.86 L530.52 287.84 L530.73 287.82 L530.94 287.8 L531.14 287.78 L531.35 287.76 L531.56 287.74 L531.76 287.72 L531.97 287.7 L532.18 287.68 L532.38 287.66 L532.59 287.64 L532.8 287.62 L533 287.6 L533.21 287.58 L533.42 287.56 L533.62 287.54 L533.83 287.52 L534.04 287.5 L534.24 287.48 L534.45 287.46 L534.66 287.45 L534.86 287.43 L535.07 287.41 L535.28 287.39 L535.48 287.37 L535.69 287.35 L535.9 287.33 L536.11 287.31 L536.31 287.29 L536.52 287.27 L536.73 287.25 L536.93 287.23 L537.14 287.21 L537.35 287.2 L537.55 287.18 L537.76 287.16 L537.97 287.14 L538.17 287.12 L538.38 287.1 L538.59 287.08 L538.79 287.06 L539 287.04 L539.21 287.03 L539.41 287.01 L539.62 286.99 L539.83 286.97 L540.03 286.95 L540.24 286.93 L540.45 286.91 L540.65 286.89 L540.86 286.88 L541.07 286.86 L541.27 286.84 L541.48 286.82 L541.69 286.8 L541.89 286.78 L542.1 286.76 L542.31 286.75 L542.52 286.73 L542.72 286.71 L542.93 286.69 L543.14 286.67 L543.34 286.65 L543.55 286.64 L543.76 286.62 L543.96 286.6 L544.17 286.58 L544.38 286.56 L544.58 286.55 L544.79 286.53 L545 286.51 L545.2 286.49 L545.41 286.47 L545.62 286.46 L545.82 286.44 L546.03 286.42 L546.24 286.4 L546.44 286.38 L546.65 286.37 L546.86 286.35 L547.06 286.33 L547.27 286.31 L547.48 286.3 L547.68 286.28 L547.89 286.26 L548.1 286.24 L548.3 286.23 L548.51 286.21 L548.72 286.19 L548.92 286.17 L549.13 286.16 L549.34 286.14 L549.55 286.12 L549.75 286.1 L549.96 286.09 L550.17 286.07 L550.37 286.05 L550.58 286.04 L550.79 286.02 L550.99 286 L551.2 285.99 L551.41 285.97 L551.61 285.95 L551.82 285.93 L552.03 285.92 L552.23 285.9 L552.44 285.88 L552.65 285.87 L552.85 285.85 L553.06 285.83 L553.27 285.82 L553.47 285.8 L553.68 285.78 L553.89 285.77 L554.09 285.75 L554.3 285.73 L554.51 285.72 L554.71 285.7 L554.92 285.69 L555.13 285.67 L555.33 285.65 L555.54 285.64 L555.75 285.62 L555.95 285.6 L556.16 285.59 L556.37 285.57 L556.58 285.56 L556.78 285.54 L556.99 285.52 L557.2 285.51 L557.4 285.49 L557.61 285.48 L557.82 285.46 L558.02 285.45 L558.23 285.43 L558.44 285.41 L558.64 285.4 L558.85 285.38 L559.06 285.37 L559.26 285.35 L559.47 285.34 L559.68 285.32 L559.88 285.31 L560.09 285.29 L560.3 285.27 L560.5 285.26 L560.71 285.24 L560.92 285.23 L561.12 285.21 L561.33 285.2 L561.54 285.18 L561.74 285.17 L561.95 285.15 L562.16 285.14 L562.36 285.12 L562.57 285.11 L562.78 285.09 L562.98 285.08 L563.19 285.06 L563.4 285.05 L563.61 285.03 L563.81 285.02 L564.02 285.01 L564.23 284.99 L564.43 284.98 L564.64 284.96 L564.85 284.95 L565.05 284.93 L565.26 284.92 L565.47 284.9 L565.67 284.89 L565.88 284.87 L566.09 284.86 L566.29 284.85 L566.5 284.83 L567.33 284.78 L568.16 284.72 L568.98 284.66 L569.81 284.61 L570.64 284.56 L571.47 284.5 L572.29 284.45 L573.12 284.4 L573.95 284.35 L574.78 284.29 L575.61 284.24 L576.43 284.19 L577.26 284.14 L578.09 284.1 L578.92 284.05 L579.74 284 L580.57 283.95 L581.4 283.91 L582.23 283.86 L583.06 283.81 L583.88 283.77 L584.71 283.73 L585.54 283.68 L586.37 283.64 L587.19 283.6 L588.02 283.55 L588.85 283.51 L589.68 283.47 L590.51 283.43 L591.33 283.39 L592.16 283.35 L592.99 283.31 L593.82 283.27 L594.64 283.23 L595.47 283.2 L596.3 283.16 L597.13 283.12 L597.95 283.09 L598.78 283.05 L599.61 283.02 L600.44 282.98 L601.27 282.95 L602.09 282.91 L602.92 282.88 L603.75 282.85 L604.58 282.81 L605.4 282.78 L606.23 282.75 L607.06 282.72 L607.89 282.69 L608.72 282.66 L609.54 282.63 L610.37 282.6 L611.2 282.57 L612.03 282.54 L612.85 282.51 L613.68 282.48 L614.51 282.45 L615.34 282.43 L616.17 282.4 L616.99 282.37 L617.82 282.35 L618.65 282.32 L619.48 282.3 L620.3 282.27 L621.13 282.25 L621.96 282.22 L622.79 282.2 L623.62 282.18 L624.44 282.15 L625.27 282.13 L626.1 282.11 L626.93 282.08 L627.75 282.06 L628.58 282.04 L629.41 282.02 L630.24 282 L631.07 281.98 L631.89 281.96 L632.72 281.94 L633.55 281.92 L634.38 281.9 L635.2 281.88 L636.03 281.86 L636.86 281.84 L637.69 281.82 L638.52 281.81 L639.34 281.79 L640.17 281.77 L641 281.75 L641.83 281.74 L642.65 281.72 L643.48 281.7 L644.31 281.69 L645.14 281.67 L645.96 281.66 L646.79 281.64 L647.62 281.63 L648.45 281.61 L649.28 281.6 L650.1 281.58 L650.93 281.57 L651.76 281.55 L652.59 281.54 L653.41 281.53 L654.24 281.51 L655.07 281.5 L655.9 281.49 L656.73 281.48 L657.55 281.46 L658.38 281.45 L659.21 281.44 L660.04 281.43 L660.86 281.42 L661.69 281.4 L662.52 281.39 L663.35 281.38 L664.18 281.37 L665 281.36 L665.83 281.35 L666.66 281.34 L667.49 281.33 L668.31 281.32 L669.14 281.31 L669.97 281.3 L670.8 281.29 L671.63 281.28 L672.45 281.28 L673.28 281.27 L674.11 281.26 L674.94 281.25 L675.76 281.24 L676.59 281.23 L677.42 281.23 L678.25 281.22 L679.08 281.21 L679.9 281.2 L680.73 281.2 L681.56 281.19 L682.39 281.18 L683.21 281.18 L684.04 281.17 L684.87 281.16 L685.7 281.16 L686.53 281.15 L687.35 281.15 L688.18 281.14 L689.01 281.13 L689.84 281.13 L690.66 281.12 L691.49 281.12 L692.32 281.11 L693.15 281.11 L693.97 281.1 L694.8 281.1 L695.63 281.09 L696.46 281.09 L697.29 281.09 L698.11 281.08 L698.94 281.08 L699.77 281.07 L700.6 281.07 L701.42 281.07 L702.25 281.06 L703.08 281.06 L703.91 281.05 L704.74 281.05 L705.56 281.05 L706.39 281.05 L707.22 281.04 L708.05 281.04 L708.87 281.04 L709.7 281.03 L710.53 281.03 L711.36 281.03 L712.19 281.03 L713.01 281.02 L713.84 281.02 L714.67 281.02 L715.5 281.02 L716.32 281.02 L717.15 281.01 L717.98 281.01 L718.81 281.01 L719.64 281.01 L720.46 281.01 L721.29 281.01 L722.12 281.01 L722.95 281 L723.77 281 L724.6 281 L725.43 281 L726.26 281 L727.09 281 L727.91 281 L728.74 281 L729.57 281 L730.4 281 L731.22 281 L732.05 281 L732.88 281 L733.71 281 L734.54 281 L735.36 281 L736.19 281 L737.02 281 L737.85 281 L738.67 281 L739.5 281 L740.33 281 L741.16 281 L741.98 281 L742.81 281 L743.64 281 L744.47 281 L745.3 281 L746.12 281 L746.95 281.01 L747.78 281.01 L748.61 281.01 L749.43 281.01 L750.26 281.01 L751.09 281.01 L751.92 281.01 L752.75 281.01 L753.57 281.02 L754.4 281.02 L755.23 281.02 L756.06 281.02 L756.88 281.02 L757.71 281.02 L758.54 281.03 L759.37 281.03 L760.2 281.03 L761.02 281.03 L761.85 281.03 L762.68 281.04 L763.51 281.04 L764.33 281.04 L765.16 281.04 L765.99 281.04 L766.82 281.05 L767.65 281.05 L768.47 281.05 L769.3 281.05 L770.13 281.06 L770.96 281.06 L771.78 281.06 L772.61 281.06 L773.44 281.07 L774.27 281.07 L775.1 281.07 L775.92 281.07 L776.75 281.08 L777.58 281.08 L778.41 281.08 L779.23 281.09 L780.06 281.09 L780.89 281.09 L781.72 281.09 L782.55 281.1 L783.37 281.1 L784.2 281.1 L785.03 281.11 L785.86 281.11 L786.68 281.11 L787.51 281.12 L788.34 281.12 L789.17 281.12 L789.99 281.13 L790.82 281.13 L791.65 281.13 L792.48 281.14 L793.31 281.14 L794.13 281.14 L794.96 281.15 L795.79 281.15 L796.62 281.16 L797.44 281.16 L798.27 281.16 L799.1 281.17 L799.93 281.17 L800.76 281.17 L801.58 281.18 L802.41 281.18 L803.24 281.19 L804.07 281.19 L804.89 281.19 L805.72 281.2 L806.55 281.2 L807.38 281.21 L808.21 281.21 L809.03 281.21 L809.86 281.22 L810.69 281.22 L811.52 281.23 L812.34 281.23 L813.17 281.23 L814 281.24" stroke="#9400d3" stroke-dasharray="2.35 6.41" stroke-dashoffset="0"/>
<path d="M484 291.15 L484.21 291.11 L484.41 290.98 L484.62 290.77 L484.83 290.47 L485.03 290.09 L485.24 289.63 L485.45 289.08 L485.65 288.45 L485.86 287.73 L486.07 286.93 L486.27 286.04 L486.48 285.08 L486.69 284.03 L486.89 282.9 L487.1 281.69 L487.31 280.4 L487.52 279.03 L487.72 277.58 L487.93 276.05 L488.14 274.45 L488.34 272.77 L488.55 271.01 L488.76 269.18 L488.96 267.29 L489.17 265.32 L489.38 263.28 L489.58 261.17 L489.79 259 L490 256.77 L490.2 254.48 L490.41 252.12 L490.62 249.71 L490.82 247.25 L491.03 244.73 L491.24 242.16 L491.44 239.55 L491.65 236.89 L491.86 234.19 L492.06 231.45 L492.27 228.67 L492.48 225.86 L492.68 223.02 L492.89 220.15 L493.1 217.25 L493.3 214.34 L493.51 211.4 L493.72 208.45 L493.92 205.49 L494.13 202.52 L494.34 199.54 L494.55 196.55 L494.75 193.57 L494.96 190.59 L495.17 187.61 L495.37 184.64 L495.58 181.69 L495.79 178.74 L495.99 175.82 L496.2 172.91 L496.41 170.03 L496.61 167.17 L496.82 164.33 L497.03 161.53 L497.23 158.75 L497.44 156.01 L497.65 153.31 L497.85 150.64 L498.06 148.01 L498.27 145.43 L498.47 142.88 L498.68 140.38 L498.89 137.93 L499.09 135.52 L499.3 133.16 L499.51 130.85 L499.71 128.59 L499.92 126.38 L500.13 124.23 L500.33 122.12 L500.54 120.07 L500.75 118.07 L500.95 116.13 L501.16 114.24 L501.37 112.41 L501.58 110.63 L501.78 108.9 L501.99 107.23 L502.2 105.61 L502.4 104.05 L502.61 102.54 L502.82 101.09 L503.02 99.69 L503.23 98.34 L503.44 97.04 L503.64 95.8 L503.85 94.61 L504.06 93.47 L504.26 92.38 L504.47 91.34 L504.68 90.34 L504.88 89.4 L505.09 88.5 L505.3 87.65 L505.5 86.85 L505.71 86.09 L505.92 85.37 L506.12 84.7 L506.33 84.06 L506.54 83.48 L506.74 82.93 L506.95 82.42 L507.16 81.94 L507.36 81.51 L507.57 81.11 L507.78 80.75 L507.98 80.43 L508.19 80.13 L508.4 79.88 L508.61 79.65 L508.81 79.45 L509.02 79.29 L509.23 79.15 L509.43 79.05 L509.64 78.97 L509.85 78.92 L510.05 78.89 L510.26 78.89 L510.47 78.92 L510.67 78.97 L510.88 79.04 L511.09 79.14 L511.29 79.25 L511.5 79.39 L511.71 79.55 L511.91 79.73 L512.12 79.92 L512.33 80.14 L512.53 80.37 L512.74 80.62 L512.95 80.88 L513.15 81.17 L513.36 81.46 L513.57 81.77 L513.77 82.1 L513.98 82.44 L514.19 82.79 L514.39 83.15 L514.6 83.53 L514.81 83.92 L515.02 84.32 L515.22 84.72 L515.43 85.14 L515.64 85.57 L515.84 86.01 L516.05 86.46 L516.26 86.91 L516.46 87.38 L516.67 87.85 L516.88 88.33 L517.08 88.81 L517.29 89.3 L517.5 89.8 L517.7 90.31 L517.91 90.82 L518.12 91.33 L518.32 91.85 L518.53 92.38 L518.74 92.91 L518.94 93.44 L519.15 93.98 L519.36 94.52 L519.56 95.07 L519.77 95.62 L519.98 96.17 L520.18 96.72 L520.39 97.28 L520.6 97.84 L520.8 98.4 L521.01 98.97 L521.22 99.53 L521.42 100.1 L521.63 100.67 L521.84 101.24 L522.05 101.81 L522.25 102.39 L522.46 102.96 L522.67 103.53 L522.87 104.11 L523.08 104.69 L523.29 105.26 L523.49 105.84 L523.7 106.41 L523.91 106.99 L524.11 107.57 L524.32 108.14 L524.53 108.72 L524.73 109.3 L524.94 109.87 L525.15 110.45 L525.35 111.02 L525.56 111.6 L525.77 112.17 L525.97 112.74 L526.18 113.31 L526.39 113.88 L526.59 114.45 L526.8 115.02 L527.01 115.59 L527.21 116.15 L527.42 116.72 L527.63 117.28 L527.83 117.84 L528.04 118.4 L528.25 118.96 L528.45 119.52 L528.66 120.07 L528.87 120.63 L529.08 121.18 L529.28 121.73 L529.49 122.28 L529.7 122.83 L529.9 123.37 L530.11 123.92 L530.32 124.46 L530.52 125 L530.73 125.54 L530.94 126.07 L531.14 126.61 L531.35 127.14 L531.56 127.67 L531.76 128.2 L531.97 128.72 L532.18 129.25 L532.38 129.77 L532.59 130.29 L532.8 130.81 L533 131.33 L533.21 131.84 L533.42 132.35 L533.62 132.86 L533.83 133.37 L534.04 133.87 L534.24 134.38 L534.45 134.88 L534.66 135.38 L534.86 135.87 L535.07 136.37 L535.28 136.86 L535.48 137.35 L535.69 137.84 L535.9 138.33 L536.11 138.81 L536.31 139.29 L536.52 139.77 L536.73 140.25 L536.93 140.72 L537.14 141.2 L537.35 141.67 L537.55 142.14 L537.76 142.6 L537.97 143.07 L538.17 143.53 L538.38 143.99 L538.59 144.45 L538.79 144.9 L539 145.36 L539.21 145.81 L539.41 146.26 L539.62 146.7 L539.83 147.15 L540.03 147.59 L540.24 148.03 L540.45 148.47 L540.65 148.91 L540.86 149.34 L541.07 149.77 L541.27 150.2 L541.48 150.63 L541.69 151.06 L541.89 151.48 L542.1 151.9 L542.31 152.32 L542.52 152.74 L542.72 153.16 L542.93 153.57 L543.14 153.98 L543.34 154.39 L543.55 154.8 L543.76 155.2 L543.96 155.61 L544.17 156.01 L544.38 156.41 L544.58 156.81 L544.79 157.2 L545 157.6 L545.2 157.99 L545.41 158.38 L545.62 158.77 L545.82 159.15 L546.03 159.54 L546.24 159.92 L546.44 160.3 L546.65 160.68 L546.86 161.06 L547.06 161.43 L547.27 161.81 L547.48 162.18 L547.68 162.55 L547.89 162.91 L548.1 163.28 L548.3 163.65 L548.51 164.01 L548.72 164.37 L548.92 164.73 L549.13 165.08 L549.34 165.44 L549.55 165.79 L549.75 166.15 L549.96 166.5 L550.17 166.84 L550.37 167.19 L550.58 167.54 L550.79 167.88 L550.99 168.22 L551.2 168.56 L551.41 168.9 L551.61 169.24 L551.82 169.57 L552.03 169.91 L552.23 170.24 L552.44 170.57 L552.65 170.9 L552.85 171.22 L553.06 171.55 L553.27 171.87 L553.47 172.2 L553.68 172.52 L553.89 172.84 L554.09 173.16 L554.3 173.47 L554.51 173.79 L554.71 174.1 L554.92 174.41 L555.13 174.72 L555.33 175.03 L555.54 175.34 L555.75 175.65 L555.95 175.95 L556.16 176.25 L556.37 176.56 L556.58 176.86 L556.78 177.15 L556.99 177.45 L557.2 177.75 L557.4 178.04 L557.61 178.34 L557.82 178.63 L558.02 178.92 L558.23 179.21 L558.44 179.5 L558.64 179.78 L558.85 180.07 L559.06 180.35 L559.26 180.64 L559.47 180.92 L559.68 181.2 L559.88 181.48 L560.09 181.75 L560.3 182.03 L560.5 182.3 L560.71 182.58 L560.92 182.85 L561.12 183.12 L561.33 183.39 L561.54 183.66 L561.74 183.93 L561.95 184.19 L562.16 184.46 L562.36 184.72 L562.57 184.99 L562.78 185.25 L562.98 185.51 L563.19 185.77 L563.4 186.02 L563.61 186.28 L563.81 186.54 L564.02 186.79 L564.23 187.04 L564.43 187.3 L564.64 187.55 L564.85 187.8 L565.05 188.05 L565.26 188.29 L565.47 188.54 L565.67 188.79 L565.88 189.03 L566.09 189.27 L566.29 189.52 L566.5 189.76 L567.33 190.71 L568.16 191.65 L568.98 192.58 L569.81 193.48 L570.64 194.38 L571.47 195.25 L572.29 196.11 L573.12 196.96 L573.95 197.8 L574.78 198.61 L575.61 199.42 L576.43 200.22 L577.26 201 L578.09 201.76 L578.92 202.52 L579.74 203.26 L580.57 204 L581.4 204.72 L582.23 205.43 L583.06 206.13 L583.88 206.81 L584.71 207.49 L585.54 208.16 L586.37 208.82 L587.19 209.47 L588.02 210.1 L588.85 210.73 L589.68 211.35 L590.51 211.96 L591.33 212.57 L592.16 213.16 L592.99 213.74 L593.82 214.32 L594.64 214.89 L595.47 215.45 L596.3 216 L597.13 216.55 L597.95 217.09 L598.78 217.62 L599.61 218.14 L600.44 218.66 L601.27 219.17 L602.09 219.67 L602.92 220.16 L603.75 220.65 L604.58 221.14 L605.4 221.61 L606.23 222.08 L607.06 222.55 L607.89 223.01 L608.72 223.46 L609.54 223.91 L610.37 224.35 L611.2 224.79 L612.03 225.22 L612.85 225.64 L613.68 226.06 L614.51 226.48 L615.34 226.89 L616.17 227.29 L616.99 227.69 L617.82 228.09 L618.65 228.48 L619.48 228.87 L620.3 229.25 L621.13 229.63 L621.96 230 L622.79 230.37 L623.62 230.74 L624.44 231.1 L625.27 231.45 L626.1 231.8 L626.93 232.15 L627.75 232.5 L628.58 232.84 L629.41 233.18 L630.24 233.51 L631.07 233.84 L631.89 234.17 L632.72 234.49 L633.55 234.81 L634.38 235.12 L635.2 235.44 L636.03 235.75 L636.86 236.05 L637.69 236.36 L638.52 236.65 L639.34 236.95 L640.17 237.25 L641 237.54 L641.83 237.82 L642.65 238.11 L643.48 238.39 L644.31 238.67 L645.14 238.95 L645.96 239.22 L646.79 239.49 L647.62 239.76 L648.45 240.02 L649.28 240.29 L650.1 240.55 L650.93 240.8 L651.76 241.06 L652.59 241.31 L653.41 241.56 L654.24 241.81 L655.07 242.06 L655.9 242.3 L656.73 242.54 L657.55 242.78 L658.38 243.02 L659.21 243.25 L660.04 243.49 L660.86 243.72 L661.69 243.94 L662.52 244.17 L663.35 244.39 L664.18 244.62 L665 244.84 L665.83 245.05 L666.66 245.27 L667.49 245.49 L668.31 245.7 L669.14 245.91 L669.97 246.12 L670.8 246.32 L671.63 246.53 L672.45 246.73 L673.28 246.93 L674.11 247.13 L674.94 247.33 L675.76 247.53 L676.59 247.72 L677.42 247.92 L678.25 248.11 L679.08 248.3 L679.9 248.49 L680.73 248.68 L681.56 248.86 L682.39 249.04 L683.21 249.23 L684.04 249.41 L684.87 249.59 L685.7 249.77 L686.53 249.94 L687.35 250.12 L688.18 250.29 L689.01 250.46 L689.84 250.64 L690.66 250.81 L691.49 250.97 L692.32 251.14 L693.15 251.31 L693.97 251.47 L694.8 251.63 L695.63 251.8 L696.46 251.96 L697.29 252.12 L698.11 252.28 L698.94 252.43 L699.77 252.59 L700.6 252.74 L701.42 252.9 L702.25 253.05 L703.08 253.2 L703.91 253.35 L704.74 253.5 L705.56 253.65 L706.39 253.8 L707.22 253.94 L708.05 254.09 L708.87 254.23 L709.7 254.37 L710.53 254.51 L711.36 254.65 L712.19 254.79 L713.01 254.93 L713.84 255.07 L714.67 255.21 L715.5 255.34 L716.32 255.48 L717.15 255.61 L717.98 255.75 L718.81 255.88 L719.64 256.01 L720.46 256.14 L721.29 256.27 L722.12 256.4 L722.95 256.52 L723.77 256.65 L724.6 256.78 L725.43 256.9 L726.26 257.03 L727.09 257.15 L727.91 257.27 L728.74 257.39 L729.57 257.51 L730.4 257.63 L731.22 257.75 L732.05 257.87 L732.88 257.99 L733.71 258.11 L734.54 258.22 L735.36 258.34 L736.19 258.45 L737.02 258.57 L737.85 258.68 L738.67 258.79 L739.5 258.91 L740.33 259.02 L741.16 259.13 L741.98 259.24 L742.81 259.35 L743.64 259.45 L744.47 259.56 L745.3 259.67 L746.12 259.78 L746.95 259.88 L747.78 259.99 L748.61 260.09 L749.43 260.19 L750.26 260.3 L751.09 260.4 L751.92 260.5 L752.75 260.6 L753.57 260.7 L754.4 260.8 L755.23 260.9 L756.06 261 L756.88 261.1 L757.71 261.2 L758.54 261.29 L759.37 261.39 L760.2 261.49 L761.02 261.58 L761.85 261.68 L762.68 261.77 L763.51 261.86 L764.33 261.96 L765.16 262.05 L765.99 262.14 L766.82 262.23 L767.65 262.32 L768.47 262.41 L769.3 262.5 L770.13 262.59 L770.96 262.68 L771.78 262.77 L772.61 262.86 L773.44 262.95 L774.27 263.03 L775.1 263.12 L775.92 263.21 L776.75 263.29 L777.58 263.38 L778.41 263.46 L779.23 263.55 L780.06 263.63 L780.89 263.71 L781.72 263.79 L782.55 263.88 L783.37 263.96 L784.2 264.04 L785.03 264.12 L785.86 264.2 L786.68 264.28 L787.51 264.36 L788.34 264.44 L789.17 264.52 L789.99 264.6 L790.82 264.68 L791.65 264.75 L792.48 264.83 L793.31 264.91 L794.13 264.98 L794.96 265.06 L795.79 265.13 L796.62 265.21 L797.44 265.28 L798.27 265.36 L799.1 265.43 L799.93 265.51 L800.76 265.58 L801.58 265.65 L802.41 265.72 L803.24 265.8 L804.07 265.87 L804.89 265.94 L805.72 266.01 L806.55 266.08 L807.38 266.15 L808.21 266.22 L809.03 266.29 L809.86 266.36 L810.69 266.43 L811.52 266.5 L812.34 266.56 L813.17 266.63 L814 266.7" stroke="#0000ff" stroke-dasharray="15.33 6.57" stroke-dashoffset="2.2"/>
<path d="M484 161.78 L484.21 160.01 L484.41 160.12 L484.62 160.52 L484.83 161.06 L485.03 161.69 L485.24 162.36 L485.45 163.07 L485.65 163.8 L485.86 164.55 L486.07 165.31 L486.27 166.07 L486.48 166.84 L486.69 167.61 L486.89 168.37 L487.1 169.14 L487.31 169.9 L487.52 170.66 L487.72 171.41 L487.93 172.15 L488.14 172.89 L488.34 173.63 L488.55 174.35 L488.76 175.07 L488.96 175.78 L489.17 176.49 L489.38 177.19 L489.58 177.88 L489.79 178.56 L490 179.24 L490.2 179.91 L490.41 180.57 L490.62 181.22 L490.82 181.87 L491.03 182.51 L491.24 183.14 L491.44 183.77 L491.65 184.38 L491.86 184.99 L492.06 185.6 L492.27 186.2 L492.48 186.79 L492.68 187.37 L492.89 187.95 L493.1 188.52 L493.3 189.09 L493.51 189.65 L493.72 190.2 L493.92 190.74 L494.13 191.28 L494.34 191.82 L494.55 192.35 L494.75 192.87 L494.96 193.39 L495.17 193.9 L495.37 194.41 L495.58 194.91 L495.79 195.4 L495.99 195.9 L496.2 196.38 L496.41 196.86 L496.61 197.34 L496.82 197.81 L497.03 198.27 L497.23 198.73 L497.44 199.19 L497.65 199.64 L497.85 200.09 L498.06 200.53 L498.27 200.97 L498.47 201.4 L498.68 201.83 L498.89 202.26 L499.09 202.68 L499.3 203.1 L499.51 203.51 L499.71 203.92 L499.92 204.32 L500.13 204.73 L500.33 205.12 L500.54 205.52 L500.75 205.91 L500.95 206.29 L501.16 206.68 L501.37 207.06 L501.58 207.43 L501.78 207.81 L501.99 208.17 L502.2 208.54 L502.4 208.9 L502.61 209.26 L502.82 209.62 L503.02 209.97 L503.23 210.32 L503.44 210.67 L503.64 211.01 L503.85 211.35 L504.06 211.69 L504.26 212.03 L504.47 212.36 L504.68 212.69 L504.88 213.01 L505.09 213.34 L505.3 213.66 L505.5 213.98 L505.71 214.29 L505.92 214.61 L506.12 214.92 L506.33 215.23 L506.54 215.53 L506.74 215.84 L506.95 216.14 L507.16 216.44 L507.36 216.73 L507.57 217.03 L507.78 217.32 L507.98 217.61 L508.19 217.89 L508.4 218.18 L508.61 218.46 L508.81 218.74 L509.02 219.02 L509.23 219.3 L509.43 219.57 L509.64 219.84 L509.85 220.11 L510.05 220.38 L510.26 220.64 L510.47 220.91 L510.67 221.17 L510.88 221.43 L511.09 221.69 L511.29 221.95 L511.5 222.2 L511.71 222.45 L511.91 222.7 L512.12 222.95 L512.33 223.2 L512.53 223.45 L512.74 223.69 L512.95 223.93 L513.15 224.17 L513.36 224.41 L513.57 224.65 L513.77 224.88 L513.98 225.12 L514.19 225.35 L514.39 225.58 L514.6 225.81 L514.81 226.04 L515.02 226.26 L515.22 226.49 L515.43 226.71 L515.64 226.93 L515.84 227.15 L516.05 227.37 L516.26 227.59 L516.46 227.8 L516.67 228.02 L516.88 228.23 L517.08 228.44 L517.29 228.65 L517.5 228.86 L517.7 229.07 L517.91 229.27 L518.12 229.48 L518.32 229.68 L518.53 229.88 L518.74 230.09 L518.94 230.29 L519.15 230.48 L519.36 230.68 L519.56 230.88 L519.77 231.07 L519.98 231.27 L520.18 231.46 L520.39 231.65 L520.6 231.84 L520.8 232.03 L521.01 232.22 L521.22 232.4 L521.42 232.59 L521.63 232.78 L521.84 232.96 L522.05 233.14 L522.25 233.32 L522.46 233.5 L522.67 233.68 L522.87 233.86 L523.08 234.04 L523.29 234.21 L523.49 234.39 L523.7 234.56 L523.91 234.74 L524.11 234.91 L524.32 235.08 L524.53 235.25 L524.73 235.42 L524.94 235.59 L525.15 235.75 L525.35 235.92 L525.56 236.09 L525.77 236.25 L525.97 236.42 L526.18 236.58 L526.39 236.74 L526.59 236.9 L526.8 237.06 L527.01 237.22 L527.21 237.38 L527.42 237.54 L527.63 237.69 L527.83 237.85 L528.04 238 L528.25 238.16 L528.45 238.31 L528.66 238.46 L528.87 238.62 L529.08 238.77 L529.28 238.92 L529.49 239.07 L529.7 239.22 L529.9 239.36 L530.11 239.51 L530.32 239.66 L530.52 239.8 L530.73 239.95 L530.94 240.09 L531.14 240.24 L531.35 240.38 L531.56 240.52 L531.76 240.66 L531.97 240.8 L532.18 240.94 L532.38 241.08 L532.59 241.22 L532.8 241.36 L533 241.49 L533.21 241.63 L533.42 241.77 L533.62 241.9 L533.83 242.04 L534.04 242.17 L534.24 242.3 L534.45 242.43 L534.66 242.57 L534.86 242.7 L535.07 242.83 L535.28 242.96 L535.48 243.09 L535.69 243.22 L535.9 243.34 L536.11 243.47 L536.31 243.6 L536.52 243.72 L536.73 243.85 L536.93 243.97 L537.14 244.1 L537.35 244.22 L537.55 244.35 L537.76 244.47 L537.97 244.59 L538.17 244.71 L538.38 244.83 L538.59 244.95 L538.79 245.07 L539 245.19 L539.21 245.31 L539.41 245.43 L539.62 245.55 L539.83 245.67 L540.03 245.78 L540.24 245.9 L540.45 246.01 L540.65 246.13 L540.86 246.24 L541.07 246.36 L541.27 246.47 L541.48 246.58 L541.69 246.7 L541.89 246.81 L542.1 246.92 L542.31 247.03 L542.52 247.14 L542.72 247.25 L542.93 247.36 L543.14 247.47 L543.34 247.58 L543.55 247.69 L543.76 247.8 L543.96 247.9 L544.17 248.01 L544.38 248.12 L544.58 248.22 L544.79 248.33 L545 248.43 L545.2 248.54 L545.41 248.64 L545.62 248.74 L545.82 248.85 L546.03 248.95 L546.24 249.05 L546.44 249.15 L546.65 249.26 L546.86 249.36 L547.06 249.46 L547.27 249.56 L547.48 249.66 L547.68 249.76 L547.89 249.86 L548.1 249.95 L548.3 250.05 L548.51 250.15 L548.72 250.25 L548.92 250.35 L549.13 250.44 L549.34 250.54 L549.55 250.63 L549.75 250.73 L549.96 250.82 L550.17 250.92 L550.37 251.01 L550.58 251.11 L550.79 251.2 L550.99 251.29 L551.2 251.39 L551.41 251.48 L551.61 251.57 L551.82 251.66 L552.03 251.75 L552.23 251.85 L552.44 251.94 L552.65 252.03 L552.85 252.12 L553.06 252.21 L553.27 252.29 L553.47 252.38 L553.68 252.47 L553.89 252.56 L554.09 252.65 L554.3 252.74 L554.51 252.82 L554.71 252.91 L554.92 253 L555.13 253.08 L555.33 253.17 L555.54 253.25 L555.75 253.34 L555.95 253.42 L556.16 253.51 L556.37 253.59 L556.58 253.68 L556.78 253.76 L556.99 253.84 L557.2 253.93 L557.4 254.01 L557.61 254.09 L557.82 254.17 L558.02 254.25 L558.23 254.34 L558.44 254.42 L558.64 254.5 L558.85 254.58 L559.06 254.66 L559.26 254.74 L559.47 254.82 L559.68 254.9 L559.88 254.98 L560.09 255.05 L560.3 255.13 L560.5 255.21 L560.71 255.29 L560.92 255.37 L561.12 255.44 L561.33 255.52 L561.54 255.6 L561.74 255.67 L561.95 255.75 L562.16 255.83 L562.36 255.9 L562.57 255.98 L562.78 256.05 L562.98 256.13 L563.19 256.2 L563.4 256.28 L563.61 256.35 L563.81 256.42 L564.02 256.5 L564.23 256.57 L564.43 256.64 L564.64 256.72 L564.85 256.79 L565.05 256.86 L565.26 256.93 L565.47 257 L565.67 257.08 L565.88 257.15 L566.09 257.22 L566.29 257.29 L566.5 257.36 L567.33 257.64 L568.16 257.91 L568.98 258.19 L569.81 258.45 L570.64 258.72 L571.47 258.98 L572.29 259.24 L573.12 259.49 L573.95 259.74 L574.78 259.99 L575.61 260.24 L576.43 260.48 L577.26 260.71 L578.09 260.95 L578.92 261.18 L579.74 261.41 L580.57 261.64 L581.4 261.86 L582.23 262.08 L583.06 262.3 L583.88 262.52 L584.71 262.73 L585.54 262.94 L586.37 263.15 L587.19 263.35 L588.02 263.55 L588.85 263.75 L589.68 263.95 L590.51 264.15 L591.33 264.34 L592.16 264.53 L592.99 264.72 L593.82 264.91 L594.64 265.09 L595.47 265.27 L596.3 265.45 L597.13 265.63 L597.95 265.81 L598.78 265.98 L599.61 266.16 L600.44 266.33 L601.27 266.49 L602.09 266.66 L602.92 266.83 L603.75 266.99 L604.58 267.15 L605.4 267.31 L606.23 267.47 L607.06 267.62 L607.89 267.78 L608.72 267.93 L609.54 268.08 L610.37 268.23 L611.2 268.38 L612.03 268.52 L612.85 268.67 L613.68 268.81 L614.51 268.95 L615.34 269.09 L616.17 269.23 L616.99 269.37 L617.82 269.5 L618.65 269.64 L619.48 269.77 L620.3 269.9 L621.13 270.03 L621.96 270.16 L622.79 270.29 L623.62 270.42 L624.44 270.54 L625.27 270.67 L626.1 270.79 L626.93 270.91 L627.75 271.03 L628.58 271.15 L629.41 271.27 L630.24 271.39 L631.07 271.5 L631.89 271.62 L632.72 271.73 L633.55 271.84 L634.38 271.95 L635.2 272.06 L636.03 272.17 L636.86 272.28 L637.69 272.39 L638.52 272.5 L639.34 272.6 L640.17 272.7 L641 272.81 L641.83 272.91 L642.65 273.01 L643.48 273.11 L644.31 273.21 L645.14 273.31 L645.96 273.41 L646.79 273.5 L647.62 273.6 L648.45 273.69 L649.28 273.79 L650.1 273.88 L650.93 273.97 L651.76 274.07 L652.59 274.16 L653.41 274.25 L654.24 274.34 L655.07 274.42 L655.9 274.51 L656.73 274.6 L657.55 274.68 L658.38 274.77 L659.21 274.85 L660.04 274.94 L660.86 275.02 L661.69 275.1 L662.52 275.18 L663.35 275.26 L664.18 275.34 L665 275.42 L665.83 275.5 L666.66 275.58 L667.49 275.66 L668.31 275.74 L669.14 275.81 L669.97 275.89 L670.8 275.96 L671.63 276.04 L672.45 276.11 L673.28 276.18 L674.11 276.25 L674.94 276.33 L675.76 276.4 L676.59 276.47 L677.42 276.54 L678.25 276.61 L679.08 276.68 L679.9 276.74 L680.73 276.81 L681.56 276.88 L682.39 276.95 L683.21 277.01 L684.04 277.08 L684.87 277.14 L685.7 277.21 L686.53 277.27 L687.35 277.33 L688.18 277.4 L689.01 277.46 L689.84 277.52 L690.66 277.58 L691.49 277.64 L692.32 277.7 L693.15 277.76 L693.97 277.82 L694.8 277.88 L695.63 277.94 L696.46 278 L697.29 278.06 L698.11 278.11 L698.94 278.17 L699.77 278.23 L700.6 278.28 L701.42 278.34 L702.25 278.39 L703.08 278.45 L703.91 278.5 L704.74 278.55 L705.56 278.61 L706.39 278.66 L707.22 278.71 L708.05 278.76 L708.87 278.82 L709.7 278.87 L710.53 278.92 L711.36 278.97 L712.19 279.02 L713.01 279.07 L713.84 279.12 L714.67 279.17 L715.5 279.21 L716.32 279.26 L717.15 279.31 L717.98 279.36 L718.81 279.4 L719.64 279.45 L720.46 279.5 L721.29 279.54 L722.12 279.59 L722.95 279.64 L723.77 279.68 L724.6 279.73 L725.43 279.77 L726.26 279.81 L727.09 279.86 L727.91 279.9 L728.74 279.94 L729.57 279.99 L730.4 280.03 L731.22 280.07 L732.05 280.11 L732.88 280.15 L733.71 280.2 L734.54 280.24 L735.36 280.28 L736.19 280.32 L737.02 280.36 L737.85 280.4 L738.67 280.44 L739.5 280.48 L740.33 280.52 L741.16 280.55 L741.98 280.59 L742.81 280.63 L743.64 280.67 L744.47 280.71 L745.3 280.74 L746.12 280.78 L746.95 280.82 L747.78 280.85 L748.61 280.89 L749.43 280.93 L750.26 280.96 L751.09 281 L751.92 281.03 L752.75 281.07 L753.57 281.1 L754.4 281.14 L755.23 281.17 L756.06 281.2 L756.88 281.24 L757.71 281.27 L758.54 281.31 L759.37 281.34 L760.2 281.37 L761.02 281.4 L761.85 281.44 L762.68 281.47 L763.51 281.5 L764.33 281.53 L765.16 281.56 L765.99 281.6 L766.82 281.63 L767.65 281.66 L768.47 281.69 L769.3 281.72 L770.13 281.75 L770.96 281.78 L771.78 281.81 L772.61 281.84 L773.44 281.87 L774.27 281.9 L775.1 281.93 L775.92 281.95 L776.75 281.98 L777.58 282.01 L778.41 282.04 L779.23 282.07 L780.06 282.1 L780.89 282.12 L781.72 282.15 L782.55 282.18 L783.37 282.21 L784.2 282.23 L785.03 282.26 L785.86 282.29 L786.68 282.31 L787.51 282.34 L788.34 282.36 L789.17 282.39 L789.99 282.42 L790.82 282.44 L791.65 282.47 L792.48 282.49 L793.31 282.52 L794.13 282.54 L794.96 282.57 L795.79 282.59 L796.62 282.62 L797.44 282.64 L798.27 282.66 L799.1 282.69 L799.93 282.71 L800.76 282.74 L801.58 282.76 L802.41 282.78 L803.24 282.81 L804.07 282.83 L804.89 282.85 L805.72 282.87 L806.55 282.9 L807.38 282.92 L808.21 282.94 L809.03 282.96 L809.86 282.99 L810.69 283.01 L811.52 283.03 L812.34 283.05 L813.17 283.07 L814 283.09" stroke="#000"/>
</g>
<path d="M517 291.15 v-7.2 M517 59.1 v7.2 M550 291.15 v-7.2 M550 59.1 v7.2 M583 291.15 v-7.2 M583 59.1 v7.2 M616 291.15 v-7.2 M616 59.1 v7.2 M649 291.15 v-14.4 M649 59.1 v14.4 M682 291.15 v-7.2 M682 59.1 v7.2 M715 291.15 v-7.2 M715 59.1 v7.2 M748 291.15 v-7.2 M748 59.1 v7.2 M781 291.15 v-7.2 M781 59.1 v7.2 M484 226.69 h14.4 M814 226.69 h-14.4 M484 162.23 h14.4 M814 162.23 h-14.4 M484 97.77 h14.4 M814 97.77 h-14.4 M484 258.92 h7.2 M814 258.92 h-7.2 M484 194.46 h7.2 M814 194.46 h-7.2 M484 130 h7.2 M814 130 h-7.2 M484 65.55 h7.2 M814 65.55 h-7.2" stroke="#000" stroke-width="1.6" fill="none"/>
<rect x="484" y="59.1" width="330" height="232.05" fill="none" stroke="#000" stroke-width="1.6" stroke-linejoin="round"/>
<text font-size="26" transform="translate(466.5 300) scale(0.930 1)" x="-0.99" y="0">0</text>
<text font-size="26" transform="translate(454.58 235.54) scale(0.930 1)" x="-1.14" y="0">25</text>
<text font-size="26" transform="translate(454.9 171.08) scale(0.930 1)" x="-1.51" y="0">50</text>
<text font-size="26" transform="translate(455.11 106.62) scale(0.930 1)" x="-1.71" y="0">75</text>
<text font-size="26" transform="translate(478.98 315.55) scale(0.930 1)" x="-0.99" y="0">0</text>
<text font-size="26" transform="translate(634.92 315.55) scale(0.930 1)" x="-0.99" y="0">0.5</text>
<text font-size="26" transform="translate(809.84 315.55) scale(0.930 1)" x="-2.29" y="0">1</text>
<clipPath id="c2"><rect x="86.85" y="336.35" width="332.35" height="234.55"/></clipPath>
<g clip-path="url(#c2)" fill="none" stroke-width="2.35" stroke-linejoin="round">
<path d="M88.05 383.25 L88.26 385.07 L88.46 386.46 L88.67 387.77 L88.88 389.02 L89.08 390.23 L89.29 391.41 L89.5 392.56 L89.7 393.69 L89.91 394.8 L90.12 395.89 L90.32 396.96 L90.53 398.01 L90.74 399.04 L90.94 400.06 L91.15 401.07 L91.36 402.05 L91.56 403.03 L91.77 403.99 L91.98 404.94 L92.18 405.88 L92.39 406.8 L92.6 407.71 L92.8 408.61 L93.01 409.5 L93.22 410.38 L93.43 411.25 L93.63 412.1 L93.84 412.95 L94.05 413.79 L94.25 414.61 L94.46 415.43 L94.67 416.24 L94.87 417.04 L95.08 417.83 L95.29 418.61 L95.49 419.39 L95.7 420.15 L95.91 420.91 L96.11 421.66 L96.32 422.4 L96.53 423.13 L96.73 423.86 L96.94 424.57 L97.15 425.29 L97.35 425.99 L97.56 426.69 L97.77 427.37 L97.97 428.06 L98.18 428.73 L98.39 429.4 L98.59 430.06 L98.8 430.72 L99.01 431.37 L99.21 432.01 L99.42 432.65 L99.63 433.28 L99.83 433.91 L100.04 434.53 L100.25 435.14 L100.45 435.75 L100.66 436.35 L100.87 436.95 L101.07 437.54 L101.28 438.13 L101.49 438.71 L101.69 439.29 L101.9 439.86 L102.11 440.43 L102.31 440.99 L102.52 441.54 L102.73 442.09 L102.93 442.64 L103.14 443.18 L103.35 443.72 L103.56 444.25 L103.76 444.78 L103.97 445.31 L104.18 445.83 L104.38 446.34 L104.59 446.85 L104.8 447.36 L105 447.86 L105.21 448.36 L105.42 448.85 L105.62 449.35 L105.83 449.83 L106.04 450.31 L106.24 450.79 L106.45 451.27 L106.66 451.74 L106.86 452.21 L107.07 452.67 L107.28 453.13 L107.48 453.59 L107.69 454.04 L107.9 454.49 L108.1 454.94 L108.31 455.38 L108.52 455.82 L108.72 456.26 L108.93 456.69 L109.14 457.12 L109.34 457.55 L109.55 457.97 L109.76 458.39 L109.96 458.81 L110.17 459.22 L110.38 459.63 L110.58 460.04 L110.79 460.45 L111 460.85 L111.2 461.25 L111.41 461.64 L111.62 462.04 L111.82 462.43 L112.03 462.82 L112.24 463.2 L112.44 463.58 L112.65 463.96 L112.86 464.34 L113.07 464.72 L113.27 465.09 L113.48 465.46 L113.69 465.82 L113.89 466.19 L114.1 466.55 L114.31 466.91 L114.51 467.27 L114.72 467.62 L114.93 467.97 L115.13 468.33 L115.34 468.67 L115.55 469.02 L115.75 469.36 L115.96 469.7 L116.17 470.04 L116.37 470.38 L116.58 470.71 L116.79 471.04 L116.99 471.37 L117.2 471.7 L117.41 472.03 L117.61 472.35 L117.82 472.67 L118.03 472.99 L118.23 473.31 L118.44 473.62 L118.65 473.94 L118.85 474.25 L119.06 474.56 L119.27 474.87 L119.47 475.17 L119.68 475.48 L119.89 475.78 L120.09 476.08 L120.3 476.38 L120.51 476.67 L120.71 476.97 L120.92 477.26 L121.13 477.55 L121.33 477.84 L121.54 478.13 L121.75 478.41 L121.95 478.7 L122.16 478.98 L122.37 479.26 L122.57 479.54 L122.78 479.82 L122.99 480.09 L123.2 480.37 L123.4 480.64 L123.61 480.91 L123.82 481.18 L124.02 481.45 L124.23 481.72 L124.44 481.98 L124.64 482.24 L124.85 482.51 L125.06 482.77 L125.26 483.02 L125.47 483.28 L125.68 483.54 L125.88 483.79 L126.09 484.04 L126.3 484.3 L126.5 484.55 L126.71 484.8 L126.92 485.04 L127.12 485.29 L127.33 485.53 L127.54 485.78 L127.74 486.02 L127.95 486.26 L128.16 486.5 L128.36 486.74 L128.57 486.97 L128.78 487.21 L128.98 487.44 L129.19 487.68 L129.4 487.91 L129.6 488.14 L129.81 488.37 L130.02 488.6 L130.22 488.82 L130.43 489.05 L130.64 489.27 L130.84 489.5 L131.05 489.72 L131.26 489.94 L131.46 490.16 L131.67 490.38 L131.88 490.59 L132.08 490.81 L132.29 491.03 L132.5 491.24 L132.7 491.45 L132.91 491.67 L133.12 491.88 L133.33 492.09 L133.53 492.29 L133.74 492.5 L133.95 492.71 L134.15 492.91 L134.36 493.12 L134.57 493.32 L134.77 493.52 L134.98 493.73 L135.19 493.93 L135.39 494.13 L135.6 494.32 L135.81 494.52 L136.01 494.72 L136.22 494.91 L136.43 495.11 L136.63 495.3 L136.84 495.5 L137.05 495.69 L137.25 495.88 L137.46 496.07 L137.67 496.26 L137.87 496.44 L138.08 496.63 L138.29 496.82 L138.49 497 L138.7 497.19 L138.91 497.37 L139.11 497.55 L139.32 497.74 L139.53 497.92 L139.73 498.1 L139.94 498.28 L140.15 498.46 L140.35 498.63 L140.56 498.81 L140.77 498.99 L140.97 499.16 L141.18 499.33 L141.39 499.51 L141.59 499.68 L141.8 499.85 L142.01 500.02 L142.21 500.19 L142.42 500.36 L142.63 500.53 L142.83 500.7 L143.04 500.87 L143.25 501.03 L143.46 501.2 L143.66 501.37 L143.87 501.53 L144.08 501.69 L144.28 501.86 L144.49 502.02 L144.7 502.18 L144.9 502.34 L145.11 502.5 L145.32 502.66 L145.52 502.82 L145.73 502.98 L145.94 503.13 L146.14 503.29 L146.35 503.44 L146.56 503.6 L146.76 503.75 L146.97 503.91 L147.18 504.06 L147.38 504.21 L147.59 504.37 L147.8 504.52 L148 504.67 L148.21 504.82 L148.42 504.97 L148.62 505.11 L148.83 505.26 L149.04 505.41 L149.24 505.56 L149.45 505.7 L149.66 505.85 L149.86 505.99 L150.07 506.14 L150.28 506.28 L150.48 506.42 L150.69 506.56 L150.9 506.71 L151.1 506.85 L151.31 506.99 L151.52 507.13 L151.72 507.27 L151.93 507.41 L152.14 507.54 L152.34 507.68 L152.55 507.82 L152.76 507.96 L152.96 508.09 L153.17 508.23 L153.38 508.36 L153.59 508.5 L153.79 508.63 L154 508.76 L154.21 508.9 L154.41 509.03 L154.62 509.16 L154.83 509.29 L155.03 509.42 L155.24 509.55 L155.45 509.68 L155.65 509.81 L155.86 509.94 L156.07 510.07 L156.27 510.19 L156.48 510.32 L156.69 510.45 L156.89 510.57 L157.1 510.7 L157.31 510.82 L157.51 510.95 L157.72 511.07 L157.93 511.2 L158.13 511.32 L158.34 511.44 L158.55 511.56 L158.75 511.68 L158.96 511.81 L159.17 511.93 L159.37 512.05 L159.58 512.17 L159.79 512.29 L159.99 512.4 L160.2 512.52 L160.41 512.64 L160.61 512.76 L160.82 512.87 L161.03 512.99 L161.23 513.11 L161.44 513.22 L161.65 513.34 L161.85 513.45 L162.06 513.57 L162.27 513.68 L162.47 513.79 L162.68 513.91 L162.89 514.02 L163.1 514.13 L163.3 514.24 L163.51 514.36 L163.72 514.47 L163.92 514.58 L164.13 514.69 L164.34 514.8 L164.54 514.91 L164.75 515.02 L164.96 515.12 L165.16 515.23 L165.37 515.34 L165.58 515.45 L165.78 515.55 L165.99 515.66 L166.2 515.77 L166.4 515.87 L166.61 515.98 L166.82 516.08 L167.02 516.19 L167.23 516.29 L167.44 516.4 L167.64 516.5 L167.85 516.6 L168.06 516.71 L168.26 516.81 L168.47 516.91 L168.68 517.01 L168.88 517.11 L169.09 517.21 L169.3 517.32 L169.5 517.42 L169.71 517.52 L169.92 517.62 L170.12 517.71 L170.33 517.81 L170.54 517.91 L171.37 518.3 L172.19 518.69 L173.02 519.07 L173.85 519.44 L174.68 519.81 L175.5 520.18 L176.33 520.54 L177.16 520.89 L177.99 521.25 L178.81 521.59 L179.64 521.93 L180.47 522.27 L181.3 522.6 L182.12 522.93 L182.95 523.26 L183.78 523.58 L184.61 523.89 L185.43 524.2 L186.26 524.51 L187.09 524.82 L187.92 525.12 L188.75 525.42 L189.57 525.71 L190.4 526 L191.23 526.29 L192.06 526.57 L192.88 526.85 L193.71 527.12 L194.54 527.4 L195.37 527.67 L196.19 527.93 L197.02 528.2 L197.85 528.46 L198.68 528.72 L199.5 528.97 L200.33 529.22 L201.16 529.47 L201.99 529.72 L202.82 529.96 L203.64 530.2 L204.47 530.44 L205.3 530.68 L206.13 530.91 L206.95 531.14 L207.78 531.37 L208.61 531.59 L209.44 531.82 L210.26 532.04 L211.09 532.26 L211.92 532.47 L212.75 532.69 L213.57 532.9 L214.4 533.11 L215.23 533.31 L216.06 533.52 L216.88 533.72 L217.71 533.92 L218.54 534.12 L219.37 534.32 L220.2 534.51 L221.02 534.71 L221.85 534.9 L222.68 535.09 L223.51 535.27 L224.33 535.46 L225.16 535.64 L225.99 535.82 L226.82 536 L227.64 536.18 L228.47 536.36 L229.3 536.53 L230.13 536.71 L230.95 536.88 L231.78 537.05 L232.61 537.22 L233.44 537.38 L234.27 537.55 L235.09 537.71 L235.92 537.87 L236.75 538.03 L237.58 538.19 L238.4 538.35 L239.23 538.51 L240.06 538.66 L240.89 538.81 L241.71 538.97 L242.54 539.12 L243.37 539.27 L244.2 539.41 L245.02 539.56 L245.85 539.71 L246.68 539.85 L247.51 539.99 L248.34 540.13 L249.16 540.27 L249.99 540.41 L250.82 540.55 L251.65 540.69 L252.47 540.82 L253.3 540.96 L254.13 541.09 L254.96 541.22 L255.78 541.35 L256.61 541.48 L257.44 541.61 L258.27 541.74 L259.09 541.87 L259.92 541.99 L260.75 542.12 L261.58 542.24 L262.4 542.36 L263.23 542.48 L264.06 542.6 L264.89 542.72 L265.72 542.84 L266.54 542.96 L267.37 543.08 L268.2 543.19 L269.03 543.31 L269.85 543.42 L270.68 543.53 L271.51 543.65 L272.34 543.76 L273.16 543.87 L273.99 543.98 L274.82 544.09 L275.65 544.19 L276.47 544.3 L277.3 544.41 L278.13 544.51 L278.96 544.62 L279.79 544.72 L280.61 544.82 L281.44 544.92 L282.27 545.03 L283.1 545.13 L283.92 545.23 L284.75 545.32 L285.58 545.42 L286.41 545.52 L287.23 545.62 L288.06 545.71 L288.89 545.81 L289.72 545.9 L290.54 546 L291.37 546.09 L292.2 546.18 L293.03 546.27 L293.85 546.37 L294.68 546.46 L295.51 546.55 L296.34 546.64 L297.17 546.72 L297.99 546.81 L298.82 546.9 L299.65 546.99 L300.48 547.07 L301.3 547.16 L302.13 547.24 L302.96 547.33 L303.79 547.41 L304.61 547.49 L305.44 547.58 L306.27 547.66 L307.1 547.74 L307.92 547.82 L308.75 547.9 L309.58 547.98 L310.41 548.06 L311.24 548.14 L312.06 548.22 L312.89 548.29 L313.72 548.37 L314.55 548.45 L315.37 548.52 L316.2 548.6 L317.03 548.67 L317.86 548.75 L318.68 548.82 L319.51 548.9 L320.34 548.97 L321.17 549.04 L321.99 549.11 L322.82 549.18 L323.65 549.26 L324.48 549.33 L325.31 549.4 L326.13 549.47 L326.96 549.54 L327.79 549.6 L328.62 549.67 L329.44 549.74 L330.27 549.81 L331.1 549.87 L331.93 549.94 L332.75 550.01 L333.58 550.07 L334.41 550.14 L335.24 550.2 L336.06 550.27 L336.89 550.33 L337.72 550.4 L338.55 550.46 L339.37 550.52 L340.2 550.58 L341.03 550.65 L341.86 550.71 L342.69 550.77 L343.51 550.83 L344.34 550.89 L345.17 550.95 L346 551.01 L346.82 551.07 L347.65 551.13 L348.48 551.19 L349.31 551.25 L350.13 551.3 L350.96 551.36 L351.79 551.42 L352.62 551.48 L353.44 551.53 L354.27 551.59 L355.1 551.64 L355.93 551.7 L356.76 551.76 L357.58 551.81 L358.41 551.86 L359.24 551.92 L360.07 551.97 L360.89 552.03 L361.72 552.08 L362.55 552.13 L363.38 552.19 L364.2 552.24 L365.03 552.29 L365.86 552.34 L366.69 552.39 L367.51 552.44 L368.34 552.5 L369.17 552.55 L370 552.6 L370.82 552.65 L371.65 552.7 L372.48 552.74 L373.31 552.79 L374.14 552.84 L374.96 552.89 L375.79 552.94 L376.62 552.99 L377.45 553.04 L378.27 553.08 L379.1 553.13 L379.93 553.18 L380.76 553.22 L381.58 553.27 L382.41 553.32 L383.24 553.36 L384.07 553.41 L384.89 553.45 L385.72 553.5 L386.55 553.54 L387.38 553.59 L388.21 553.63 L389.03 553.68 L389.86 553.72 L390.69 553.76 L391.52 553.81 L392.34 553.85 L393.17 553.89 L394 553.94 L394.83 553.98 L395.65 554.02 L396.48 554.06 L397.31 554.1 L398.14 554.15 L398.96 554.19 L399.79 554.23 L400.62 554.27 L401.45 554.31 L402.27 554.35 L403.1 554.39 L403.93 554.43 L404.76 554.47 L405.59 554.51 L406.41 554.55 L407.24 554.59 L408.07 554.63 L408.9 554.67 L409.72 554.7 L410.55 554.74 L411.38 554.78 L412.21 554.82 L413.03 554.86 L413.86 554.89 L414.69 554.93 L415.52 554.97 L416.34 555 L417.17 555.04 L418 555.08" stroke="#000"/>
<path d="M88.05 569.7 L88.26 569.68 L88.46 569.63 L88.67 569.55 L88.88 569.43 L89.08 569.29 L89.29 569.12 L89.5 568.93 L89.7 568.71 L89.91 568.47 L90.12 568.2 L90.32 567.92 L90.53 567.62 L90.74 567.3 L90.94 566.96 L91.15 566.6 L91.36 566.23 L91.56 565.84 L91.77 565.44 L91.98 565.03 L92.18 564.61 L92.39 564.17 L92.6 563.72 L92.8 563.27 L93.01 562.8 L93.22 562.32 L93.43 561.84 L93.63 561.35 L93.84 560.85 L94.05 560.34 L94.25 559.83 L94.46 559.31 L94.67 558.79 L94.87 558.26 L95.08 557.72 L95.29 557.19 L95.49 556.64 L95.7 556.1 L95.91 555.55 L96.11 555 L96.32 554.45 L96.53 553.89 L96.73 553.33 L96.94 552.77 L97.15 552.21 L97.35 551.65 L97.56 551.09 L97.77 550.53 L97.97 549.96 L98.18 549.4 L98.39 548.84 L98.59 548.27 L98.8 547.71 L99.01 547.15 L99.21 546.59 L99.42 546.02 L99.63 545.47 L99.83 544.91 L100.04 544.35 L100.25 543.8 L100.45 543.24 L100.66 542.69 L100.87 542.14 L101.07 541.59 L101.28 541.05 L101.49 540.51 L101.69 539.97 L101.9 539.43 L102.11 538.89 L102.31 538.36 L102.52 537.83 L102.73 537.3 L102.93 536.78 L103.14 536.26 L103.35 535.74 L103.56 535.23 L103.76 534.72 L103.97 534.21 L104.18 533.71 L104.38 533.2 L104.59 532.71 L104.8 532.21 L105 531.72 L105.21 531.24 L105.42 530.75 L105.62 530.27 L105.83 529.8 L106.04 529.33 L106.24 528.86 L106.45 528.39 L106.66 527.93 L106.86 527.48 L107.07 527.02 L107.28 526.58 L107.48 526.13 L107.69 525.69 L107.9 525.25 L108.1 524.82 L108.31 524.39 L108.52 523.97 L108.72 523.55 L108.93 523.13 L109.14 522.72 L109.34 522.31 L109.55 521.91 L109.76 521.51 L109.96 521.11 L110.17 520.72 L110.38 520.33 L110.58 519.94 L110.79 519.56 L111 519.19 L111.2 518.82 L111.41 518.45 L111.62 518.08 L111.82 517.72 L112.03 517.37 L112.24 517.01 L112.44 516.67 L112.65 516.32 L112.86 515.98 L113.07 515.65 L113.27 515.31 L113.48 514.98 L113.69 514.66 L113.89 514.34 L114.1 514.02 L114.31 513.71 L114.51 513.4 L114.72 513.09 L114.93 512.79 L115.13 512.49 L115.34 512.2 L115.55 511.91 L115.75 511.62 L115.96 511.34 L116.17 511.06 L116.37 510.78 L116.58 510.51 L116.79 510.24 L116.99 509.98 L117.2 509.72 L117.41 509.46 L117.61 509.2 L117.82 508.95 L118.03 508.7 L118.23 508.46 L118.44 508.22 L118.65 507.98 L118.85 507.75 L119.06 507.52 L119.27 507.29 L119.47 507.07 L119.68 506.84 L119.89 506.63 L120.09 506.41 L120.3 506.2 L120.51 505.99 L120.71 505.79 L120.92 505.59 L121.13 505.39 L121.33 505.19 L121.54 505 L121.75 504.81 L121.95 504.62 L122.16 504.44 L122.37 504.26 L122.57 504.08 L122.78 503.9 L122.99 503.73 L123.2 503.56 L123.4 503.4 L123.61 503.23 L123.82 503.07 L124.02 502.91 L124.23 502.76 L124.44 502.6 L124.64 502.45 L124.85 502.31 L125.06 502.16 L125.26 502.02 L125.47 501.88 L125.68 501.74 L125.88 501.61 L126.09 501.48 L126.3 501.35 L126.5 501.22 L126.71 501.09 L126.92 500.97 L127.12 500.85 L127.33 500.73 L127.54 500.62 L127.74 500.5 L127.95 500.39 L128.16 500.28 L128.36 500.18 L128.57 500.07 L128.78 499.97 L128.98 499.87 L129.19 499.77 L129.4 499.68 L129.6 499.58 L129.81 499.49 L130.02 499.4 L130.22 499.32 L130.43 499.23 L130.64 499.15 L130.84 499.06 L131.05 498.99 L131.26 498.91 L131.46 498.83 L131.67 498.76 L131.88 498.69 L132.08 498.62 L132.29 498.55 L132.5 498.48 L132.7 498.42 L132.91 498.35 L133.12 498.29 L133.33 498.23 L133.53 498.18 L133.74 498.12 L133.95 498.07 L134.15 498.01 L134.36 497.96 L134.57 497.91 L134.77 497.87 L134.98 497.82 L135.19 497.77 L135.39 497.73 L135.6 497.69 L135.81 497.65 L136.01 497.61 L136.22 497.57 L136.43 497.54 L136.63 497.5 L136.84 497.47 L137.05 497.44 L137.25 497.41 L137.46 497.38 L137.67 497.35 L137.87 497.33 L138.08 497.3 L138.29 497.28 L138.49 497.26 L138.7 497.24 L138.91 497.22 L139.11 497.2 L139.32 497.18 L139.53 497.17 L139.73 497.15 L139.94 497.14 L140.15 497.13 L140.35 497.12 L140.56 497.11 L140.77 497.1 L140.97 497.09 L141.18 497.09 L141.39 497.08 L141.59 497.08 L141.8 497.07 L142.01 497.07 L142.21 497.07 L142.42 497.07 L142.63 497.07 L142.83 497.08 L143.04 497.08 L143.25 497.08 L143.46 497.09 L143.66 497.09 L143.87 497.1 L144.08 497.11 L144.28 497.12 L144.49 497.13 L144.7 497.14 L144.9 497.15 L145.11 497.16 L145.32 497.18 L145.52 497.19 L145.73 497.2 L145.94 497.22 L146.14 497.24 L146.35 497.26 L146.56 497.27 L146.76 497.29 L146.97 497.31 L147.18 497.33 L147.38 497.35 L147.59 497.38 L147.8 497.4 L148 497.42 L148.21 497.45 L148.42 497.47 L148.62 497.5 L148.83 497.53 L149.04 497.55 L149.24 497.58 L149.45 497.61 L149.66 497.64 L149.86 497.67 L150.07 497.7 L150.28 497.73 L150.48 497.76 L150.69 497.79 L150.9 497.83 L151.1 497.86 L151.31 497.89 L151.52 497.93 L151.72 497.97 L151.93 498 L152.14 498.04 L152.34 498.07 L152.55 498.11 L152.76 498.15 L152.96 498.19 L153.17 498.23 L153.38 498.27 L153.59 498.31 L153.79 498.35 L154 498.39 L154.21 498.43 L154.41 498.47 L154.62 498.52 L154.83 498.56 L155.03 498.6 L155.24 498.65 L155.45 498.69 L155.65 498.74 L155.86 498.78 L156.07 498.83 L156.27 498.87 L156.48 498.92 L156.69 498.97 L156.89 499.01 L157.1 499.06 L157.31 499.11 L157.51 499.16 L157.72 499.21 L157.93 499.26 L158.13 499.31 L158.34 499.36 L158.55 499.41 L158.75 499.46 L158.96 499.51 L159.17 499.56 L159.37 499.61 L159.58 499.67 L159.79 499.72 L159.99 499.77 L160.2 499.82 L160.41 499.88 L160.61 499.93 L160.82 499.98 L161.03 500.04 L161.23 500.09 L161.44 500.15 L161.65 500.2 L161.85 500.26 L162.06 500.31 L162.27 500.37 L162.47 500.43 L162.68 500.48 L162.89 500.54 L163.1 500.6 L163.3 500.65 L163.51 500.71 L163.72 500.77 L163.92 500.83 L164.13 500.89 L164.34 500.94 L164.54 501 L164.75 501.06 L164.96 501.12 L165.16 501.18 L165.37 501.24 L165.58 501.3 L165.78 501.36 L165.99 501.42 L166.2 501.48 L166.4 501.54 L166.61 501.6 L166.82 501.66 L167.02 501.72 L167.23 501.78 L167.44 501.84 L167.64 501.91 L167.85 501.97 L168.06 502.03 L168.26 502.09 L168.47 502.15 L168.68 502.22 L168.88 502.28 L169.09 502.34 L169.3 502.4 L169.5 502.47 L169.71 502.53 L169.92 502.59 L170.12 502.66 L170.33 502.72 L170.54 502.78 L171.37 503.04 L172.19 503.29 L173.02 503.55 L173.85 503.81 L174.68 504.07 L175.5 504.34 L176.33 504.6 L177.16 504.87 L177.99 505.13 L178.81 505.4 L179.64 505.66 L180.47 505.93 L181.3 506.2 L182.12 506.46 L182.95 506.73 L183.78 507 L184.61 507.27 L185.43 507.53 L186.26 507.8 L187.09 508.07 L187.92 508.33 L188.75 508.6 L189.57 508.87 L190.4 509.13 L191.23 509.4 L192.06 509.66 L192.88 509.92 L193.71 510.19 L194.54 510.45 L195.37 510.71 L196.19 510.97 L197.02 511.23 L197.85 511.49 L198.68 511.75 L199.5 512 L200.33 512.26 L201.16 512.51 L201.99 512.77 L202.82 513.02 L203.64 513.27 L204.47 513.52 L205.3 513.77 L206.13 514.02 L206.95 514.26 L207.78 514.51 L208.61 514.75 L209.44 515 L210.26 515.24 L211.09 515.48 L211.92 515.72 L212.75 515.96 L213.57 516.19 L214.4 516.43 L215.23 516.66 L216.06 516.9 L216.88 517.13 L217.71 517.36 L218.54 517.59 L219.37 517.82 L220.2 518.04 L221.02 518.27 L221.85 518.49 L222.68 518.72 L223.51 518.94 L224.33 519.16 L225.16 519.38 L225.99 519.59 L226.82 519.81 L227.64 520.03 L228.47 520.24 L229.3 520.45 L230.13 520.66 L230.95 520.87 L231.78 521.08 L232.61 521.29 L233.44 521.49 L234.27 521.7 L235.09 521.9 L235.92 522.1 L236.75 522.3 L237.58 522.5 L238.4 522.7 L239.23 522.9 L240.06 523.1 L240.89 523.29 L241.71 523.48 L242.54 523.68 L243.37 523.87 L244.2 524.06 L245.02 524.24 L245.85 524.43 L246.68 524.62 L247.51 524.8 L248.34 524.99 L249.16 525.17 L249.99 525.35 L250.82 525.53 L251.65 525.71 L252.47 525.89 L253.3 526.06 L254.13 526.24 L254.96 526.41 L255.78 526.59 L256.61 526.76 L257.44 526.93 L258.27 527.1 L259.09 527.27 L259.92 527.44 L260.75 527.61 L261.58 527.77 L262.4 527.94 L263.23 528.1 L264.06 528.26 L264.89 528.42 L265.72 528.58 L266.54 528.74 L267.37 528.9 L268.2 529.06 L269.03 529.22 L269.85 529.37 L270.68 529.53 L271.51 529.68 L272.34 529.83 L273.16 529.98 L273.99 530.13 L274.82 530.28 L275.65 530.43 L276.47 530.58 L277.3 530.73 L278.13 530.87 L278.96 531.02 L279.79 531.16 L280.61 531.3 L281.44 531.45 L282.27 531.59 L283.1 531.73 L283.92 531.87 L284.75 532.01 L285.58 532.14 L286.41 532.28 L287.23 532.42 L288.06 532.55 L288.89 532.69 L289.72 532.82 L290.54 532.95 L291.37 533.08 L292.2 533.21 L293.03 533.34 L293.85 533.47 L294.68 533.6 L295.51 533.73 L296.34 533.86 L297.17 533.98 L297.99 534.11 L298.82 534.23 L299.65 534.36 L300.48 534.48 L301.3 534.6 L302.13 534.72 L302.96 534.85 L303.79 534.97 L304.61 535.09 L305.44 535.2 L306.27 535.32 L307.1 535.44 L307.92 535.56 L308.75 535.67 L309.58 535.79 L310.41 535.9 L311.24 536.02 L312.06 536.13 L312.89 536.24 L313.72 536.35 L314.55 536.46 L315.37 536.57 L316.2 536.68 L317.03 536.79 L317.86 536.9 L318.68 537.01 L319.51 537.12 L320.34 537.22 L321.17 537.33 L321.99 537.43 L322.82 537.54 L323.65 537.64 L324.48 537.75 L325.31 537.85 L326.13 537.95 L326.96 538.05 L327.79 538.15 L328.62 538.25 L329.44 538.35 L330.27 538.45 L331.1 538.55 L331.93 538.65 L332.75 538.75 L333.58 538.84 L334.41 538.94 L335.24 539.04 L336.06 539.13 L336.89 539.23 L337.72 539.32 L338.55 539.41 L339.37 539.51 L340.2 539.6 L341.03 539.69 L341.86 539.78 L342.69 539.88 L343.51 539.97 L344.34 540.06 L345.17 540.15 L346 540.24 L346.82 540.32 L347.65 540.41 L348.48 540.5 L349.31 540.59 L350.13 540.67 L350.96 540.76 L351.79 540.84 L352.62 540.93 L353.44 541.01 L354.27 541.1 L355.1 541.18 L355.93 541.27 L356.76 541.35 L357.58 541.43 L358.41 541.51 L359.24 541.59 L360.07 541.68 L360.89 541.76 L361.72 541.84 L362.55 541.92 L363.38 542 L364.2 542.07 L365.03 542.15 L365.86 542.23 L366.69 542.31 L367.51 542.39 L368.34 542.46 L369.17 542.54 L370 542.62 L370.82 542.69 L371.65 542.77 L372.48 542.84 L373.31 542.92 L374.14 542.99 L374.96 543.06 L375.79 543.14 L376.62 543.21 L377.45 543.28 L378.27 543.35 L379.1 543.43 L379.93 543.5 L380.76 543.57 L381.58 543.64 L382.41 543.71 L383.24 543.78 L384.07 543.85 L384.89 543.92 L385.72 543.99 L386.55 544.05 L387.38 544.12 L388.21 544.19 L389.03 544.26 L389.86 544.32 L390.69 544.39 L391.52 544.46 L392.34 544.52 L393.17 544.59 L394 544.65 L394.83 544.72 L395.65 544.78 L396.48 544.85 L397.31 544.91 L398.14 544.98 L398.96 545.04 L399.79 545.1 L400.62 545.17 L401.45 545.23 L402.27 545.29 L403.1 545.35 L403.93 545.41 L404.76 545.47 L405.59 545.54 L406.41 545.6 L407.24 545.66 L408.07 545.72 L408.9 545.78 L409.72 545.84 L410.55 545.89 L411.38 545.95 L412.21 546.01 L413.03 546.07 L413.86 546.13 L414.69 546.19 L415.52 546.24 L416.34 546.3 L417.17 546.36 L418 546.41" stroke="#0000ff" stroke-dasharray="15.33 6.57" stroke-dashoffset="1"/>
<path d="M88.05 569.7 L88.26 569.7 L88.46 569.69 L88.67 569.69 L88.88 569.68 L89.08 569.67 L89.29 569.66 L89.5 569.65 L89.7 569.64 L89.91 569.63 L90.12 569.62 L90.32 569.6 L90.53 569.59 L90.74 569.57 L90.94 569.56 L91.15 569.54 L91.36 569.53 L91.56 569.51 L91.77 569.49 L91.98 569.48 L92.18 569.46 L92.39 569.44 L92.6 569.42 L92.8 569.41 L93.01 569.39 L93.22 569.37 L93.43 569.35 L93.63 569.33 L93.84 569.32 L94.05 569.3 L94.25 569.28 L94.46 569.26 L94.67 569.24 L94.87 569.22 L95.08 569.2 L95.29 569.18 L95.49 569.17 L95.7 569.15 L95.91 569.13 L96.11 569.11 L96.32 569.09 L96.53 569.07 L96.73 569.05 L96.94 569.03 L97.15 569.01 L97.35 568.99 L97.56 568.97 L97.77 568.95 L97.97 568.93 L98.18 568.91 L98.39 568.89 L98.59 568.87 L98.8 568.85 L99.01 568.83 L99.21 568.81 L99.42 568.8 L99.63 568.78 L99.83 568.76 L100.04 568.74 L100.25 568.72 L100.45 568.7 L100.66 568.68 L100.87 568.66 L101.07 568.64 L101.28 568.62 L101.49 568.6 L101.69 568.58 L101.9 568.56 L102.11 568.54 L102.31 568.52 L102.52 568.5 L102.73 568.48 L102.93 568.46 L103.14 568.44 L103.35 568.42 L103.56 568.4 L103.76 568.38 L103.97 568.36 L104.18 568.34 L104.38 568.32 L104.59 568.3 L104.8 568.28 L105 568.26 L105.21 568.24 L105.42 568.22 L105.62 568.2 L105.83 568.18 L106.04 568.16 L106.24 568.14 L106.45 568.12 L106.66 568.1 L106.86 568.08 L107.07 568.06 L107.28 568.04 L107.48 568.02 L107.69 568 L107.9 567.98 L108.1 567.96 L108.31 567.94 L108.52 567.92 L108.72 567.9 L108.93 567.88 L109.14 567.86 L109.34 567.84 L109.55 567.82 L109.76 567.8 L109.96 567.78 L110.17 567.76 L110.38 567.74 L110.58 567.72 L110.79 567.7 L111 567.68 L111.2 567.66 L111.41 567.64 L111.62 567.62 L111.82 567.6 L112.03 567.58 L112.24 567.56 L112.44 567.54 L112.65 567.52 L112.86 567.5 L113.07 567.48 L113.27 567.47 L113.48 567.45 L113.69 567.43 L113.89 567.41 L114.1 567.39 L114.31 567.37 L114.51 567.35 L114.72 567.33 L114.93 567.31 L115.13 567.29 L115.34 567.27 L115.55 567.25 L115.75 567.23 L115.96 567.21 L116.17 567.19 L116.37 567.17 L116.58 567.15 L116.79 567.13 L116.99 567.11 L117.2 567.09 L117.41 567.07 L117.61 567.06 L117.82 567.04 L118.03 567.02 L118.23 567 L118.44 566.98 L118.65 566.96 L118.85 566.94 L119.06 566.92 L119.27 566.9 L119.47 566.88 L119.68 566.86 L119.89 566.84 L120.09 566.82 L120.3 566.8 L120.51 566.79 L120.71 566.77 L120.92 566.75 L121.13 566.73 L121.33 566.71 L121.54 566.69 L121.75 566.67 L121.95 566.65 L122.16 566.63 L122.37 566.61 L122.57 566.59 L122.78 566.58 L122.99 566.56 L123.2 566.54 L123.4 566.52 L123.61 566.5 L123.82 566.48 L124.02 566.46 L124.23 566.44 L124.44 566.42 L124.64 566.4 L124.85 566.39 L125.06 566.37 L125.26 566.35 L125.47 566.33 L125.68 566.31 L125.88 566.29 L126.09 566.27 L126.3 566.25 L126.5 566.24 L126.71 566.22 L126.92 566.2 L127.12 566.18 L127.33 566.16 L127.54 566.14 L127.74 566.12 L127.95 566.1 L128.16 566.09 L128.36 566.07 L128.57 566.05 L128.78 566.03 L128.98 566.01 L129.19 565.99 L129.4 565.97 L129.6 565.96 L129.81 565.94 L130.02 565.92 L130.22 565.9 L130.43 565.88 L130.64 565.86 L130.84 565.85 L131.05 565.83 L131.26 565.81 L131.46 565.79 L131.67 565.77 L131.88 565.75 L132.08 565.74 L132.29 565.72 L132.5 565.7 L132.7 565.68 L132.91 565.66 L133.12 565.65 L133.33 565.63 L133.53 565.61 L133.74 565.59 L133.95 565.57 L134.15 565.55 L134.36 565.54 L134.57 565.52 L134.77 565.5 L134.98 565.48 L135.19 565.46 L135.39 565.45 L135.6 565.43 L135.81 565.41 L136.01 565.39 L136.22 565.38 L136.43 565.36 L136.63 565.34 L136.84 565.32 L137.05 565.3 L137.25 565.29 L137.46 565.27 L137.67 565.25 L137.87 565.23 L138.08 565.22 L138.29 565.2 L138.49 565.18 L138.7 565.16 L138.91 565.15 L139.11 565.13 L139.32 565.11 L139.53 565.09 L139.73 565.07 L139.94 565.06 L140.15 565.04 L140.35 565.02 L140.56 565 L140.77 564.99 L140.97 564.97 L141.18 564.95 L141.39 564.94 L141.59 564.92 L141.8 564.9 L142.01 564.88 L142.21 564.87 L142.42 564.85 L142.63 564.83 L142.83 564.81 L143.04 564.8 L143.25 564.78 L143.46 564.76 L143.66 564.75 L143.87 564.73 L144.08 564.71 L144.28 564.69 L144.49 564.68 L144.7 564.66 L144.9 564.64 L145.11 564.63 L145.32 564.61 L145.52 564.59 L145.73 564.58 L145.94 564.56 L146.14 564.54 L146.35 564.53 L146.56 564.51 L146.76 564.49 L146.97 564.48 L147.18 564.46 L147.38 564.44 L147.59 564.43 L147.8 564.41 L148 564.39 L148.21 564.38 L148.42 564.36 L148.62 564.34 L148.83 564.33 L149.04 564.31 L149.24 564.29 L149.45 564.28 L149.66 564.26 L149.86 564.24 L150.07 564.23 L150.28 564.21 L150.48 564.19 L150.69 564.18 L150.9 564.16 L151.1 564.14 L151.31 564.13 L151.52 564.11 L151.72 564.1 L151.93 564.08 L152.14 564.06 L152.34 564.05 L152.55 564.03 L152.76 564.01 L152.96 564 L153.17 563.98 L153.38 563.97 L153.59 563.95 L153.79 563.93 L154 563.92 L154.21 563.9 L154.41 563.89 L154.62 563.87 L154.83 563.85 L155.03 563.84 L155.24 563.82 L155.45 563.81 L155.65 563.79 L155.86 563.78 L156.07 563.76 L156.27 563.74 L156.48 563.73 L156.69 563.71 L156.89 563.7 L157.1 563.68 L157.31 563.67 L157.51 563.65 L157.72 563.63 L157.93 563.62 L158.13 563.6 L158.34 563.59 L158.55 563.57 L158.75 563.56 L158.96 563.54 L159.17 563.53 L159.37 563.51 L159.58 563.5 L159.79 563.48 L159.99 563.46 L160.2 563.45 L160.41 563.43 L160.61 563.42 L160.82 563.4 L161.03 563.39 L161.23 563.37 L161.44 563.36 L161.65 563.34 L161.85 563.33 L162.06 563.31 L162.27 563.3 L162.47 563.28 L162.68 563.27 L162.89 563.25 L163.1 563.24 L163.3 563.22 L163.51 563.21 L163.72 563.19 L163.92 563.18 L164.13 563.16 L164.34 563.15 L164.54 563.13 L164.75 563.12 L164.96 563.1 L165.16 563.09 L165.37 563.07 L165.58 563.06 L165.78 563.05 L165.99 563.03 L166.2 563.02 L166.4 563 L166.61 562.99 L166.82 562.97 L167.02 562.96 L167.23 562.94 L167.44 562.93 L167.64 562.91 L167.85 562.9 L168.06 562.89 L168.26 562.87 L168.47 562.86 L168.68 562.84 L168.88 562.83 L169.09 562.81 L169.3 562.8 L169.5 562.79 L169.71 562.77 L169.92 562.76 L170.12 562.74 L170.33 562.73 L170.54 562.72 L171.37 562.66 L172.19 562.6 L173.02 562.55 L173.85 562.49 L174.68 562.44 L175.5 562.38 L176.33 562.33 L177.16 562.28 L177.99 562.22 L178.81 562.17 L179.64 562.12 L180.47 562.07 L181.3 562.02 L182.12 561.96 L182.95 561.91 L183.78 561.86 L184.61 561.81 L185.43 561.76 L186.26 561.71 L187.09 561.67 L187.92 561.62 L188.75 561.57 L189.57 561.52 L190.4 561.47 L191.23 561.43 L192.06 561.38 L192.88 561.34 L193.71 561.29 L194.54 561.24 L195.37 561.2 L196.19 561.16 L197.02 561.11 L197.85 561.07 L198.68 561.02 L199.5 560.98 L200.33 560.94 L201.16 560.9 L201.99 560.85 L202.82 560.81 L203.64 560.77 L204.47 560.73 L205.3 560.69 L206.13 560.65 L206.95 560.61 L207.78 560.57 L208.61 560.53 L209.44 560.49 L210.26 560.46 L211.09 560.42 L211.92 560.38 L212.75 560.34 L213.57 560.31 L214.4 560.27 L215.23 560.24 L216.06 560.2 L216.88 560.16 L217.71 560.13 L218.54 560.1 L219.37 560.06 L220.2 560.03 L221.02 559.99 L221.85 559.96 L222.68 559.93 L223.51 559.9 L224.33 559.86 L225.16 559.83 L225.99 559.8 L226.82 559.77 L227.64 559.74 L228.47 559.71 L229.3 559.68 L230.13 559.65 L230.95 559.62 L231.78 559.59 L232.61 559.56 L233.44 559.53 L234.27 559.51 L235.09 559.48 L235.92 559.45 L236.75 559.42 L237.58 559.4 L238.4 559.37 L239.23 559.34 L240.06 559.32 L240.89 559.29 L241.71 559.27 L242.54 559.24 L243.37 559.22 L244.2 559.19 L245.02 559.17 L245.85 559.15 L246.68 559.12 L247.51 559.1 L248.34 559.08 L249.16 559.05 L249.99 559.03 L250.82 559.01 L251.65 558.99 L252.47 558.97 L253.3 558.94 L254.13 558.92 L254.96 558.9 L255.78 558.88 L256.61 558.86 L257.44 558.84 L258.27 558.82 L259.09 558.8 L259.92 558.79 L260.75 558.77 L261.58 558.75 L262.4 558.73 L263.23 558.71 L264.06 558.7 L264.89 558.68 L265.72 558.66 L266.54 558.64 L267.37 558.63 L268.2 558.61 L269.03 558.6 L269.85 558.58 L270.68 558.56 L271.51 558.55 L272.34 558.53 L273.16 558.52 L273.99 558.5 L274.82 558.49 L275.65 558.48 L276.47 558.46 L277.3 558.45 L278.13 558.44 L278.96 558.42 L279.79 558.41 L280.61 558.4 L281.44 558.38 L282.27 558.37 L283.1 558.36 L283.92 558.35 L284.75 558.34 L285.58 558.32 L286.41 558.31 L287.23 558.3 L288.06 558.29 L288.89 558.28 L289.72 558.27 L290.54 558.26 L291.37 558.25 L292.2 558.24 L293.03 558.23 L293.85 558.22 L294.68 558.21 L295.51 558.2 L296.34 558.2 L297.17 558.19 L297.99 558.18 L298.82 558.17 L299.65 558.16 L300.48 558.15 L301.3 558.15 L302.13 558.14 L302.96 558.13 L303.79 558.12 L304.61 558.12 L305.44 558.11 L306.27 558.1 L307.1 558.1 L307.92 558.09 L308.75 558.09 L309.58 558.08 L310.41 558.07 L311.24 558.07 L312.06 558.06 L312.89 558.06 L313.72 558.05 L314.55 558.05 L315.37 558.04 L316.2 558.04 L317.03 558.04 L317.86 558.03 L318.68 558.03 L319.51 558.02 L320.34 558.02 L321.17 558.02 L321.99 558.01 L322.82 558.01 L323.65 558.01 L324.48 558 L325.31 558 L326.13 558 L326.96 557.99 L327.79 557.99 L328.62 557.99 L329.44 557.99 L330.27 557.98 L331.1 557.98 L331.93 557.98 L332.75 557.98 L333.58 557.98 L334.41 557.98 L335.24 557.98 L336.06 557.97 L336.89 557.97 L337.72 557.97 L338.55 557.97 L339.37 557.97 L340.2 557.97 L341.03 557.97 L341.86 557.97 L342.69 557.97 L343.51 557.97 L344.34 557.97 L345.17 557.97 L346 557.97 L346.82 557.97 L347.65 557.97 L348.48 557.97 L349.31 557.97 L350.13 557.97 L350.96 557.97 L351.79 557.97 L352.62 557.98 L353.44 557.98 L354.27 557.98 L355.1 557.98 L355.93 557.98 L356.76 557.98 L357.58 557.98 L358.41 557.99 L359.24 557.99 L360.07 557.99 L360.89 557.99 L361.72 557.99 L362.55 558 L363.38 558 L364.2 558 L365.03 558 L365.86 558.01 L366.69 558.01 L367.51 558.01 L368.34 558.02 L369.17 558.02 L370 558.02 L370.82 558.03 L371.65 558.03 L372.48 558.03 L373.31 558.04 L374.14 558.04 L374.96 558.04 L375.79 558.05 L376.62 558.05 L377.45 558.05 L378.27 558.06 L379.1 558.06 L379.93 558.07 L380.76 558.07 L381.58 558.07 L382.41 558.08 L383.24 558.08 L384.07 558.09 L384.89 558.09 L385.72 558.1 L386.55 558.1 L387.38 558.1 L388.21 558.11 L389.03 558.11 L389.86 558.12 L390.69 558.12 L391.52 558.13 L392.34 558.13 L393.17 558.14 L394 558.14 L394.83 558.15 L395.65 558.15 L396.48 558.16 L397.31 558.17 L398.14 558.17 L398.96 558.18 L399.79 558.18 L400.62 558.19 L401.45 558.19 L402.27 558.2 L403.1 558.2 L403.93 558.21 L404.76 558.22 L405.59 558.22 L406.41 558.23 L407.24 558.23 L408.07 558.24 L408.9 558.25 L409.72 558.25 L410.55 558.26 L411.38 558.27 L412.21 558.27 L413.03 558.28 L413.86 558.28 L414.69 558.29 L415.52 558.3 L416.34 558.3 L417.17 558.31 L418 558.32" stroke="#9400d3" stroke-dasharray="2.35 6.41" stroke-dashoffset="0"/>
</g>
<path d="M121.04 569.7 v-7.2 M121.04 337.55 v7.2 M154.04 569.7 v-7.2 M154.04 337.55 v7.2 M187.03 569.7 v-7.2 M187.03 337.55 v7.2 M220.03 569.7 v-7.2 M220.03 337.55 v7.2 M253.02 569.7 v-14.4 M253.02 337.55 v14.4 M286.02 569.7 v-7.2 M286.02 337.55 v7.2 M319.01 569.7 v-7.2 M319.01 337.55 v7.2 M352.01 569.7 v-7.2 M352.01 337.55 v7.2 M385 569.7 v-7.2 M385 337.55 v7.2 M88.05 486.79 h14.4 M418 486.79 h-14.4 M88.05 403.88 h14.4 M418 403.88 h-14.4 M88.05 528.24 h7.2 M418 528.24 h-7.2 M88.05 445.33 h7.2 M418 445.33 h-7.2 M88.05 362.42 h7.2 M418 362.42 h-7.2" stroke="#000" stroke-width="1.6" fill="none"/>
<rect x="88.05" y="337.55" width="329.95" height="232.15" fill="none" stroke="#000" stroke-width="1.6" stroke-linejoin="round"/>
<text font-size="26" transform="translate(70.55 578.55) scale(0.930 1)" x="-0.99" y="0">0</text>
<text font-size="26" transform="translate(58.63 495.64) scale(0.930 1)" x="-1.14" y="0">25</text>
<text font-size="26" transform="translate(58.95 412.73) scale(0.930 1)" x="-1.51" y="0">50</text>
<text font-size="26" transform="translate(83.03 594.1) scale(0.930 1)" x="-0.99" y="0">0</text>
<text font-size="26" transform="translate(238.95 594.1) scale(0.930 1)" x="-0.99" y="0">0.5</text>
<text font-size="26" transform="translate(413.84 594.1) scale(0.930 1)" x="-2.29" y="0">1</text>
<clipPath id="c3"><rect x="482.8" y="336.35" width="332.4" height="234.55"/></clipPath>
<g clip-path="url(#c3)" fill="none" stroke-width="2.35" stroke-linejoin="round">
<path d="M484 569.7 L484.21 569.7 L484.41 569.7 L484.62 569.7 L484.83 569.7 L485.03 569.7 L485.24 569.7 L485.45 569.7 L485.65 569.7 L485.86 569.69 L486.07 569.69 L486.27 569.69 L486.48 569.69 L486.69 569.69 L486.89 569.69 L487.1 569.69 L487.31 569.68 L487.52 569.68 L487.72 569.68 L487.93 569.68 L488.14 569.67 L488.34 569.67 L488.55 569.67 L488.76 569.67 L488.96 569.66 L489.17 569.66 L489.38 569.66 L489.58 569.65 L489.79 569.65 L490 569.65 L490.2 569.64 L490.41 569.64 L490.62 569.64 L490.82 569.63 L491.03 569.63 L491.24 569.62 L491.44 569.62 L491.65 569.61 L491.86 569.61 L492.06 569.6 L492.27 569.6 L492.48 569.59 L492.68 569.59 L492.89 569.58 L493.1 569.58 L493.3 569.57 L493.51 569.57 L493.72 569.56 L493.92 569.55 L494.13 569.55 L494.34 569.54 L494.55 569.54 L494.75 569.53 L494.96 569.52 L495.17 569.52 L495.37 569.51 L495.58 569.5 L495.79 569.5 L495.99 569.49 L496.2 569.48 L496.41 569.47 L496.61 569.47 L496.82 569.46 L497.03 569.45 L497.23 569.44 L497.44 569.44 L497.65 569.43 L497.85 569.42 L498.06 569.41 L498.27 569.4 L498.47 569.39 L498.68 569.39 L498.89 569.38 L499.09 569.37 L499.3 569.36 L499.51 569.35 L499.71 569.34 L499.92 569.33 L500.13 569.32 L500.33 569.31 L500.54 569.3 L500.75 569.29 L500.95 569.28 L501.16 569.27 L501.37 569.26 L501.58 569.25 L501.78 569.24 L501.99 569.23 L502.2 569.22 L502.4 569.21 L502.61 569.2 L502.82 569.19 L503.02 569.18 L503.23 569.17 L503.44 569.16 L503.64 569.15 L503.85 569.14 L504.06 569.13 L504.26 569.11 L504.47 569.1 L504.68 569.09 L504.88 569.08 L505.09 569.07 L505.3 569.06 L505.5 569.04 L505.71 569.03 L505.92 569.02 L506.12 569.01 L506.33 569 L506.54 568.98 L506.74 568.97 L506.95 568.96 L507.16 568.95 L507.36 568.93 L507.57 568.92 L507.78 568.91 L507.98 568.89 L508.19 568.88 L508.4 568.87 L508.61 568.86 L508.81 568.84 L509.02 568.83 L509.23 568.82 L509.43 568.8 L509.64 568.79 L509.85 568.78 L510.05 568.76 L510.26 568.75 L510.47 568.73 L510.67 568.72 L510.88 568.71 L511.09 568.69 L511.29 568.68 L511.5 568.66 L511.71 568.65 L511.91 568.64 L512.12 568.62 L512.33 568.61 L512.53 568.59 L512.74 568.58 L512.95 568.56 L513.15 568.55 L513.36 568.53 L513.57 568.52 L513.77 568.5 L513.98 568.49 L514.19 568.47 L514.39 568.46 L514.6 568.44 L514.81 568.43 L515.02 568.41 L515.22 568.4 L515.43 568.38 L515.64 568.37 L515.84 568.35 L516.05 568.34 L516.26 568.32 L516.46 568.31 L516.67 568.29 L516.88 568.28 L517.08 568.26 L517.29 568.24 L517.5 568.23 L517.7 568.21 L517.91 568.2 L518.12 568.18 L518.32 568.17 L518.53 568.15 L518.74 568.13 L518.94 568.12 L519.15 568.1 L519.36 568.09 L519.56 568.07 L519.77 568.05 L519.98 568.04 L520.18 568.02 L520.39 568 L520.6 567.99 L520.8 567.97 L521.01 567.96 L521.22 567.94 L521.42 567.92 L521.63 567.91 L521.84 567.89 L522.05 567.87 L522.25 567.86 L522.46 567.84 L522.67 567.82 L522.87 567.81 L523.08 567.79 L523.29 567.77 L523.49 567.76 L523.7 567.74 L523.91 567.72 L524.11 567.71 L524.32 567.69 L524.53 567.67 L524.73 567.66 L524.94 567.64 L525.15 567.62 L525.35 567.61 L525.56 567.59 L525.77 567.57 L525.97 567.55 L526.18 567.54 L526.39 567.52 L526.59 567.5 L526.8 567.49 L527.01 567.47 L527.21 567.45 L527.42 567.44 L527.63 567.42 L527.83 567.4 L528.04 567.38 L528.25 567.37 L528.45 567.35 L528.66 567.33 L528.87 567.32 L529.08 567.3 L529.28 567.28 L529.49 567.27 L529.7 567.25 L529.9 567.23 L530.11 567.21 L530.32 567.2 L530.52 567.18 L530.73 567.16 L530.94 567.15 L531.14 567.13 L531.35 567.11 L531.56 567.09 L531.76 567.08 L531.97 567.06 L532.18 567.04 L532.38 567.03 L532.59 567.01 L532.8 566.99 L533 566.97 L533.21 566.96 L533.42 566.94 L533.62 566.92 L533.83 566.91 L534.04 566.89 L534.24 566.87 L534.45 566.86 L534.66 566.84 L534.86 566.82 L535.07 566.8 L535.28 566.79 L535.48 566.77 L535.69 566.75 L535.9 566.74 L536.11 566.72 L536.31 566.7 L536.52 566.69 L536.73 566.67 L536.93 566.65 L537.14 566.64 L537.35 566.62 L537.55 566.6 L537.76 566.58 L537.97 566.57 L538.17 566.55 L538.38 566.53 L538.59 566.52 L538.79 566.5 L539 566.48 L539.21 566.47 L539.41 566.45 L539.62 566.43 L539.83 566.42 L540.03 566.4 L540.24 566.38 L540.45 566.37 L540.65 566.35 L540.86 566.33 L541.07 566.32 L541.27 566.3 L541.48 566.28 L541.69 566.27 L541.89 566.25 L542.1 566.24 L542.31 566.22 L542.52 566.2 L542.72 566.19 L542.93 566.17 L543.14 566.15 L543.34 566.14 L543.55 566.12 L543.76 566.1 L543.96 566.09 L544.17 566.07 L544.38 566.06 L544.58 566.04 L544.79 566.02 L545 566.01 L545.2 565.99 L545.41 565.98 L545.62 565.96 L545.82 565.94 L546.03 565.93 L546.24 565.91 L546.44 565.9 L546.65 565.88 L546.86 565.86 L547.06 565.85 L547.27 565.83 L547.48 565.82 L547.68 565.8 L547.89 565.79 L548.1 565.77 L548.3 565.75 L548.51 565.74 L548.72 565.72 L548.92 565.71 L549.13 565.69 L549.34 565.68 L549.55 565.66 L549.75 565.65 L549.96 565.63 L550.17 565.61 L550.37 565.6 L550.58 565.58 L550.79 565.57 L550.99 565.55 L551.2 565.54 L551.41 565.52 L551.61 565.51 L551.82 565.49 L552.03 565.48 L552.23 565.46 L552.44 565.45 L552.65 565.43 L552.85 565.42 L553.06 565.4 L553.27 565.39 L553.47 565.37 L553.68 565.36 L553.89 565.34 L554.09 565.33 L554.3 565.31 L554.51 565.3 L554.71 565.29 L554.92 565.27 L555.13 565.26 L555.33 565.24 L555.54 565.23 L555.75 565.21 L555.95 565.2 L556.16 565.18 L556.37 565.17 L556.58 565.16 L556.78 565.14 L556.99 565.13 L557.2 565.11 L557.4 565.1 L557.61 565.08 L557.82 565.07 L558.02 565.06 L558.23 565.04 L558.44 565.03 L558.64 565.01 L558.85 565 L559.06 564.99 L559.26 564.97 L559.47 564.96 L559.68 564.95 L559.88 564.93 L560.09 564.92 L560.3 564.9 L560.5 564.89 L560.71 564.88 L560.92 564.86 L561.12 564.85 L561.33 564.84 L561.54 564.82 L561.74 564.81 L561.95 564.8 L562.16 564.78 L562.36 564.77 L562.57 564.76 L562.78 564.74 L562.98 564.73 L563.19 564.72 L563.4 564.7 L563.61 564.69 L563.81 564.68 L564.02 564.66 L564.23 564.65 L564.43 564.64 L564.64 564.63 L564.85 564.61 L565.05 564.6 L565.26 564.59 L565.47 564.57 L565.67 564.56 L565.88 564.55 L566.09 564.54 L566.29 564.52 L566.5 564.51 L567.33 564.46 L568.16 564.41 L568.98 564.36 L569.81 564.32 L570.64 564.27 L571.47 564.22 L572.29 564.18 L573.12 564.13 L573.95 564.08 L574.78 564.04 L575.61 564 L576.43 563.95 L577.26 563.91 L578.09 563.87 L578.92 563.83 L579.74 563.78 L580.57 563.74 L581.4 563.7 L582.23 563.66 L583.06 563.62 L583.88 563.59 L584.71 563.55 L585.54 563.51 L586.37 563.47 L587.19 563.44 L588.02 563.4 L588.85 563.37 L589.68 563.33 L590.51 563.3 L591.33 563.26 L592.16 563.23 L592.99 563.2 L593.82 563.16 L594.64 563.13 L595.47 563.1 L596.3 563.07 L597.13 563.04 L597.95 563.01 L598.78 562.98 L599.61 562.95 L600.44 562.92 L601.27 562.89 L602.09 562.86 L602.92 562.83 L603.75 562.81 L604.58 562.78 L605.4 562.75 L606.23 562.73 L607.06 562.7 L607.89 562.68 L608.72 562.65 L609.54 562.63 L610.37 562.6 L611.2 562.58 L612.03 562.55 L612.85 562.53 L613.68 562.51 L614.51 562.49 L615.34 562.46 L616.17 562.44 L616.99 562.42 L617.82 562.4 L618.65 562.38 L619.48 562.36 L620.3 562.34 L621.13 562.32 L621.96 562.3 L622.79 562.28 L623.62 562.26 L624.44 562.24 L625.27 562.22 L626.1 562.2 L626.93 562.18 L627.75 562.17 L628.58 562.15 L629.41 562.13 L630.24 562.11 L631.07 562.1 L631.89 562.08 L632.72 562.06 L633.55 562.05 L634.38 562.03 L635.2 562.02 L636.03 562 L636.86 561.99 L637.69 561.97 L638.52 561.96 L639.34 561.94 L640.17 561.93 L641 561.92 L641.83 561.9 L642.65 561.89 L643.48 561.87 L644.31 561.86 L645.14 561.85 L645.96 561.84 L646.79 561.82 L647.62 561.81 L648.45 561.8 L649.28 561.79 L650.1 561.77 L650.93 561.76 L651.76 561.75 L652.59 561.74 L653.41 561.73 L654.24 561.72 L655.07 561.71 L655.9 561.7 L656.73 561.69 L657.55 561.68 L658.38 561.67 L659.21 561.66 L660.04 561.65 L660.86 561.64 L661.69 561.63 L662.52 561.62 L663.35 561.61 L664.18 561.6 L665 561.59 L665.83 561.58 L666.66 561.57 L667.49 561.56 L668.31 561.56 L669.14 561.55 L669.97 561.54 L670.8 561.53 L671.63 561.52 L672.45 561.52 L673.28 561.51 L674.11 561.5 L674.94 561.49 L675.76 561.49 L676.59 561.48 L677.42 561.47 L678.25 561.47 L679.08 561.46 L679.9 561.45 L680.73 561.45 L681.56 561.44 L682.39 561.43 L683.21 561.43 L684.04 561.42 L684.87 561.41 L685.7 561.41 L686.53 561.4 L687.35 561.4 L688.18 561.39 L689.01 561.38 L689.84 561.38 L690.66 561.37 L691.49 561.37 L692.32 561.36 L693.15 561.36 L693.97 561.35 L694.8 561.35 L695.63 561.34 L696.46 561.34 L697.29 561.33 L698.11 561.33 L698.94 561.32 L699.77 561.32 L700.6 561.32 L701.42 561.31 L702.25 561.31 L703.08 561.3 L703.91 561.3 L704.74 561.29 L705.56 561.29 L706.39 561.29 L707.22 561.28 L708.05 561.28 L708.87 561.28 L709.7 561.27 L710.53 561.27 L711.36 561.26 L712.19 561.26 L713.01 561.26 L713.84 561.25 L714.67 561.25 L715.5 561.25 L716.32 561.24 L717.15 561.24 L717.98 561.24 L718.81 561.24 L719.64 561.23 L720.46 561.23 L721.29 561.23 L722.12 561.22 L722.95 561.22 L723.77 561.22 L724.6 561.22 L725.43 561.21 L726.26 561.21 L727.09 561.21 L727.91 561.21 L728.74 561.2 L729.57 561.2 L730.4 561.2 L731.22 561.2 L732.05 561.2 L732.88 561.19 L733.71 561.19 L734.54 561.19 L735.36 561.19 L736.19 561.19 L737.02 561.18 L737.85 561.18 L738.67 561.18 L739.5 561.18 L740.33 561.18 L741.16 561.18 L741.98 561.17 L742.81 561.17 L743.64 561.17 L744.47 561.17 L745.3 561.17 L746.12 561.17 L746.95 561.17 L747.78 561.16 L748.61 561.16 L749.43 561.16 L750.26 561.16 L751.09 561.16 L751.92 561.16 L752.75 561.16 L753.57 561.16 L754.4 561.15 L755.23 561.15 L756.06 561.15 L756.88 561.15 L757.71 561.15 L758.54 561.15 L759.37 561.15 L760.2 561.15 L761.02 561.15 L761.85 561.15 L762.68 561.15 L763.51 561.15 L764.33 561.15 L765.16 561.14 L765.99 561.14 L766.82 561.14 L767.65 561.14 L768.47 561.14 L769.3 561.14 L770.13 561.14 L770.96 561.14 L771.78 561.14 L772.61 561.14 L773.44 561.14 L774.27 561.14 L775.1 561.14 L775.92 561.14 L776.75 561.14 L777.58 561.14 L778.41 561.14 L779.23 561.14 L780.06 561.14 L780.89 561.14 L781.72 561.14 L782.55 561.14 L783.37 561.14 L784.2 561.14 L785.03 561.14 L785.86 561.14 L786.68 561.14 L787.51 561.14 L788.34 561.14 L789.17 561.14 L789.99 561.14 L790.82 561.14 L791.65 561.14 L792.48 561.14 L793.31 561.14 L794.13 561.14 L794.96 561.14 L795.79 561.14 L796.62 561.14 L797.44 561.14 L798.27 561.14 L799.1 561.14 L799.93 561.14 L800.76 561.14 L801.58 561.14 L802.41 561.14 L803.24 561.14 L804.07 561.14 L804.89 561.14 L805.72 561.14 L806.55 561.14 L807.38 561.15 L808.21 561.15 L809.03 561.15 L809.86 561.15 L810.69 561.15 L811.52 561.15 L812.34 561.15 L813.17 561.15 L814 561.15" stroke="#9400d3" stroke-dasharray="2.35 6.41" stroke-dashoffset="0"/>
<path d="M484 569.7 L484.21 569.68 L484.41 569.63 L484.62 569.55 L484.83 569.43 L485.03 569.29 L485.24 569.12 L485.45 568.93 L485.65 568.71 L485.86 568.47 L486.07 568.2 L486.27 567.92 L486.48 567.62 L486.69 567.3 L486.89 566.96 L487.1 566.6 L487.31 566.23 L487.52 565.84 L487.72 565.44 L487.93 565.03 L488.14 564.61 L488.34 564.17 L488.55 563.72 L488.76 563.27 L488.96 562.8 L489.17 562.32 L489.38 561.84 L489.58 561.35 L489.79 560.85 L490 560.34 L490.2 559.83 L490.41 559.31 L490.62 558.79 L490.82 558.26 L491.03 557.72 L491.24 557.19 L491.44 556.64 L491.65 556.1 L491.86 555.55 L492.06 555 L492.27 554.45 L492.48 553.89 L492.68 553.33 L492.89 552.77 L493.1 552.21 L493.3 551.65 L493.51 551.09 L493.72 550.53 L493.92 549.96 L494.13 549.4 L494.34 548.84 L494.55 548.27 L494.75 547.71 L494.96 547.15 L495.17 546.59 L495.37 546.02 L495.58 545.47 L495.79 544.91 L495.99 544.35 L496.2 543.8 L496.41 543.24 L496.61 542.69 L496.82 542.14 L497.03 541.59 L497.23 541.05 L497.44 540.51 L497.65 539.97 L497.85 539.43 L498.06 538.89 L498.27 538.36 L498.47 537.83 L498.68 537.3 L498.89 536.78 L499.09 536.26 L499.3 535.74 L499.51 535.23 L499.71 534.72 L499.92 534.21 L500.13 533.71 L500.33 533.2 L500.54 532.71 L500.75 532.21 L500.95 531.72 L501.16 531.24 L501.37 530.75 L501.58 530.27 L501.78 529.8 L501.99 529.33 L502.2 528.86 L502.4 528.39 L502.61 527.93 L502.82 527.48 L503.02 527.02 L503.23 526.58 L503.44 526.13 L503.64 525.69 L503.85 525.25 L504.06 524.82 L504.26 524.39 L504.47 523.97 L504.68 523.55 L504.88 523.13 L505.09 522.72 L505.3 522.31 L505.5 521.91 L505.71 521.51 L505.92 521.11 L506.12 520.72 L506.33 520.33 L506.54 519.94 L506.74 519.56 L506.95 519.19 L507.16 518.82 L507.36 518.45 L507.57 518.08 L507.78 517.72 L507.98 517.37 L508.19 517.01 L508.4 516.67 L508.61 516.32 L508.81 515.98 L509.02 515.65 L509.23 515.31 L509.43 514.98 L509.64 514.66 L509.85 514.34 L510.05 514.02 L510.26 513.71 L510.47 513.4 L510.67 513.09 L510.88 512.79 L511.09 512.49 L511.29 512.2 L511.5 511.91 L511.71 511.62 L511.91 511.34 L512.12 511.06 L512.33 510.78 L512.53 510.51 L512.74 510.24 L512.95 509.98 L513.15 509.72 L513.36 509.46 L513.57 509.2 L513.77 508.95 L513.98 508.7 L514.19 508.46 L514.39 508.22 L514.6 507.98 L514.81 507.75 L515.02 507.52 L515.22 507.29 L515.43 507.07 L515.64 506.84 L515.84 506.63 L516.05 506.41 L516.26 506.2 L516.46 505.99 L516.67 505.79 L516.88 505.59 L517.08 505.39 L517.29 505.19 L517.5 505 L517.7 504.81 L517.91 504.62 L518.12 504.44 L518.32 504.26 L518.53 504.08 L518.74 503.9 L518.94 503.73 L519.15 503.56 L519.36 503.4 L519.56 503.23 L519.77 503.07 L519.98 502.91 L520.18 502.76 L520.39 502.6 L520.6 502.45 L520.8 502.31 L521.01 502.16 L521.22 502.02 L521.42 501.88 L521.63 501.74 L521.84 501.61 L522.05 501.48 L522.25 501.35 L522.46 501.22 L522.67 501.09 L522.87 500.97 L523.08 500.85 L523.29 500.73 L523.49 500.62 L523.7 500.5 L523.91 500.39 L524.11 500.28 L524.32 500.18 L524.53 500.07 L524.73 499.97 L524.94 499.87 L525.15 499.77 L525.35 499.68 L525.56 499.58 L525.77 499.49 L525.97 499.4 L526.18 499.32 L526.39 499.23 L526.59 499.15 L526.8 499.06 L527.01 498.99 L527.21 498.91 L527.42 498.83 L527.63 498.76 L527.83 498.69 L528.04 498.62 L528.25 498.55 L528.45 498.48 L528.66 498.42 L528.87 498.35 L529.08 498.29 L529.28 498.23 L529.49 498.18 L529.7 498.12 L529.9 498.07 L530.11 498.01 L530.32 497.96 L530.52 497.91 L530.73 497.87 L530.94 497.82 L531.14 497.77 L531.35 497.73 L531.56 497.69 L531.76 497.65 L531.97 497.61 L532.18 497.57 L532.38 497.54 L532.59 497.5 L532.8 497.47 L533 497.44 L533.21 497.41 L533.42 497.38 L533.62 497.35 L533.83 497.33 L534.04 497.3 L534.24 497.28 L534.45 497.26 L534.66 497.24 L534.86 497.22 L535.07 497.2 L535.28 497.18 L535.48 497.17 L535.69 497.15 L535.9 497.14 L536.11 497.13 L536.31 497.12 L536.52 497.11 L536.73 497.1 L536.93 497.09 L537.14 497.09 L537.35 497.08 L537.55 497.08 L537.76 497.07 L537.97 497.07 L538.17 497.07 L538.38 497.07 L538.59 497.07 L538.79 497.08 L539 497.08 L539.21 497.08 L539.41 497.09 L539.62 497.09 L539.83 497.1 L540.03 497.11 L540.24 497.12 L540.45 497.13 L540.65 497.14 L540.86 497.15 L541.07 497.16 L541.27 497.18 L541.48 497.19 L541.69 497.2 L541.89 497.22 L542.1 497.24 L542.31 497.26 L542.52 497.27 L542.72 497.29 L542.93 497.31 L543.14 497.33 L543.34 497.35 L543.55 497.38 L543.76 497.4 L543.96 497.42 L544.17 497.45 L544.38 497.47 L544.58 497.5 L544.79 497.53 L545 497.55 L545.2 497.58 L545.41 497.61 L545.62 497.64 L545.82 497.67 L546.03 497.7 L546.24 497.73 L546.44 497.76 L546.65 497.79 L546.86 497.83 L547.06 497.86 L547.27 497.89 L547.48 497.93 L547.68 497.97 L547.89 498 L548.1 498.04 L548.3 498.07 L548.51 498.11 L548.72 498.15 L548.92 498.19 L549.13 498.23 L549.34 498.27 L549.55 498.31 L549.75 498.35 L549.96 498.39 L550.17 498.43 L550.37 498.47 L550.58 498.52 L550.79 498.56 L550.99 498.6 L551.2 498.65 L551.41 498.69 L551.61 498.74 L551.82 498.78 L552.03 498.83 L552.23 498.87 L552.44 498.92 L552.65 498.97 L552.85 499.01 L553.06 499.06 L553.27 499.11 L553.47 499.16 L553.68 499.21 L553.89 499.26 L554.09 499.31 L554.3 499.36 L554.51 499.41 L554.71 499.46 L554.92 499.51 L555.13 499.56 L555.33 499.61 L555.54 499.67 L555.75 499.72 L555.95 499.77 L556.16 499.82 L556.37 499.88 L556.58 499.93 L556.78 499.98 L556.99 500.04 L557.2 500.09 L557.4 500.15 L557.61 500.2 L557.82 500.26 L558.02 500.31 L558.23 500.37 L558.44 500.43 L558.64 500.48 L558.85 500.54 L559.06 500.6 L559.26 500.65 L559.47 500.71 L559.68 500.77 L559.88 500.83 L560.09 500.89 L560.3 500.94 L560.5 501 L560.71 501.06 L560.92 501.12 L561.12 501.18 L561.33 501.24 L561.54 501.3 L561.74 501.36 L561.95 501.42 L562.16 501.48 L562.36 501.54 L562.57 501.6 L562.78 501.66 L562.98 501.72 L563.19 501.78 L563.4 501.84 L563.61 501.91 L563.81 501.97 L564.02 502.03 L564.23 502.09 L564.43 502.15 L564.64 502.22 L564.85 502.28 L565.05 502.34 L565.26 502.4 L565.47 502.47 L565.67 502.53 L565.88 502.59 L566.09 502.66 L566.29 502.72 L566.5 502.78 L567.33 503.04 L568.16 503.29 L568.98 503.55 L569.81 503.81 L570.64 504.07 L571.47 504.34 L572.29 504.6 L573.12 504.87 L573.95 505.13 L574.78 505.4 L575.61 505.66 L576.43 505.93 L577.26 506.2 L578.09 506.46 L578.92 506.73 L579.74 507 L580.57 507.27 L581.4 507.53 L582.23 507.8 L583.06 508.07 L583.88 508.33 L584.71 508.6 L585.54 508.87 L586.37 509.13 L587.19 509.4 L588.02 509.66 L588.85 509.92 L589.68 510.19 L590.51 510.45 L591.33 510.71 L592.16 510.97 L592.99 511.23 L593.82 511.49 L594.64 511.75 L595.47 512 L596.3 512.26 L597.13 512.51 L597.95 512.77 L598.78 513.02 L599.61 513.27 L600.44 513.52 L601.27 513.77 L602.09 514.02 L602.92 514.26 L603.75 514.51 L604.58 514.75 L605.4 515 L606.23 515.24 L607.06 515.48 L607.89 515.72 L608.72 515.96 L609.54 516.19 L610.37 516.43 L611.2 516.66 L612.03 516.9 L612.85 517.13 L613.68 517.36 L614.51 517.59 L615.34 517.82 L616.17 518.04 L616.99 518.27 L617.82 518.49 L618.65 518.72 L619.48 518.94 L620.3 519.16 L621.13 519.38 L621.96 519.59 L622.79 519.81 L623.62 520.03 L624.44 520.24 L625.27 520.45 L626.1 520.66 L626.93 520.87 L627.75 521.08 L628.58 521.29 L629.41 521.49 L630.24 521.7 L631.07 521.9 L631.89 522.1 L632.72 522.3 L633.55 522.5 L634.38 522.7 L635.2 522.9 L636.03 523.1 L636.86 523.29 L637.69 523.48 L638.52 523.68 L639.34 523.87 L640.17 524.06 L641 524.24 L641.83 524.43 L642.65 524.62 L643.48 524.8 L644.31 524.99 L645.14 525.17 L645.96 525.35 L646.79 525.53 L647.62 525.71 L648.45 525.89 L649.28 526.06 L650.1 526.24 L650.93 526.41 L651.76 526.59 L652.59 526.76 L653.41 526.93 L654.24 527.1 L655.07 527.27 L655.9 527.44 L656.73 527.61 L657.55 527.77 L658.38 527.94 L659.21 528.1 L660.04 528.26 L660.86 528.42 L661.69 528.58 L662.52 528.74 L663.35 528.9 L664.18 529.06 L665 529.22 L665.83 529.37 L666.66 529.53 L667.49 529.68 L668.31 529.83 L669.14 529.98 L669.97 530.13 L670.8 530.28 L671.63 530.43 L672.45 530.58 L673.28 530.73 L674.11 530.87 L674.94 531.02 L675.76 531.16 L676.59 531.3 L677.42 531.45 L678.25 531.59 L679.08 531.73 L679.9 531.87 L680.73 532.01 L681.56 532.14 L682.39 532.28 L683.21 532.42 L684.04 532.55 L684.87 532.69 L685.7 532.82 L686.53 532.95 L687.35 533.08 L688.18 533.21 L689.01 533.34 L689.84 533.47 L690.66 533.6 L691.49 533.73 L692.32 533.86 L693.15 533.98 L693.97 534.11 L694.8 534.23 L695.63 534.36 L696.46 534.48 L697.29 534.6 L698.11 534.72 L698.94 534.85 L699.77 534.97 L700.6 535.09 L701.42 535.2 L702.25 535.32 L703.08 535.44 L703.91 535.56 L704.74 535.67 L705.56 535.79 L706.39 535.9 L707.22 536.02 L708.05 536.13 L708.87 536.24 L709.7 536.35 L710.53 536.46 L711.36 536.57 L712.19 536.68 L713.01 536.79 L713.84 536.9 L714.67 537.01 L715.5 537.12 L716.32 537.22 L717.15 537.33 L717.98 537.43 L718.81 537.54 L719.64 537.64 L720.46 537.75 L721.29 537.85 L722.12 537.95 L722.95 538.05 L723.77 538.15 L724.6 538.25 L725.43 538.35 L726.26 538.45 L727.09 538.55 L727.91 538.65 L728.74 538.75 L729.57 538.84 L730.4 538.94 L731.22 539.04 L732.05 539.13 L732.88 539.23 L733.71 539.32 L734.54 539.41 L735.36 539.51 L736.19 539.6 L737.02 539.69 L737.85 539.78 L738.67 539.88 L739.5 539.97 L740.33 540.06 L741.16 540.15 L741.98 540.24 L742.81 540.32 L743.64 540.41 L744.47 540.5 L745.3 540.59 L746.12 540.67 L746.95 540.76 L747.78 540.84 L748.61 540.93 L749.43 541.01 L750.26 541.1 L751.09 541.18 L751.92 541.27 L752.75 541.35 L753.57 541.43 L754.4 541.51 L755.23 541.59 L756.06 541.68 L756.88 541.76 L757.71 541.84 L758.54 541.92 L759.37 542 L760.2 542.07 L761.02 542.15 L761.85 542.23 L762.68 542.31 L763.51 542.39 L764.33 542.46 L765.16 542.54 L765.99 542.62 L766.82 542.69 L767.65 542.77 L768.47 542.84 L769.3 542.92 L770.13 542.99 L770.96 543.06 L771.78 543.14 L772.61 543.21 L773.44 543.28 L774.27 543.35 L775.1 543.43 L775.92 543.5 L776.75 543.57 L777.58 543.64 L778.41 543.71 L779.23 543.78 L780.06 543.85 L780.89 543.92 L781.72 543.99 L782.55 544.05 L783.37 544.12 L784.2 544.19 L785.03 544.26 L785.86 544.32 L786.68 544.39 L787.51 544.46 L788.34 544.52 L789.17 544.59 L789.99 544.65 L790.82 544.72 L791.65 544.78 L792.48 544.85 L793.31 544.91 L794.13 544.98 L794.96 545.04 L795.79 545.1 L796.62 545.17 L797.44 545.23 L798.27 545.29 L799.1 545.35 L799.93 545.41 L800.76 545.47 L801.58 545.54 L802.41 545.6 L803.24 545.66 L804.07 545.72 L804.89 545.78 L805.72 545.84 L806.55 545.89 L807.38 545.95 L808.21 546.01 L809.03 546.07 L809.86 546.13 L810.69 546.19 L811.52 546.24 L812.34 546.3 L813.17 546.36 L814 546.41" stroke="#0000ff" stroke-dasharray="15.33 6.57" stroke-dashoffset="1"/>
<path d="M484 346.55 L484.21 348.51 L484.41 350.03 L484.62 351.47 L484.83 352.85 L485.03 354.18 L485.24 355.48 L485.45 356.75 L485.65 358 L485.86 359.22 L486.07 360.42 L486.27 361.59 L486.48 362.75 L486.69 363.89 L486.89 365.01 L487.1 366.12 L487.31 367.21 L487.52 368.29 L487.72 369.35 L487.93 370.39 L488.14 371.42 L488.34 372.44 L488.55 373.45 L488.76 374.44 L488.96 375.42 L489.17 376.39 L489.38 377.34 L489.58 378.29 L489.79 379.22 L490 380.15 L490.2 381.06 L490.41 381.96 L490.62 382.86 L490.82 383.74 L491.03 384.61 L491.24 385.48 L491.44 386.33 L491.65 387.18 L491.86 388.01 L492.06 388.84 L492.27 389.66 L492.48 390.47 L492.68 391.27 L492.89 392.07 L493.1 392.86 L493.3 393.63 L493.51 394.41 L493.72 395.17 L493.92 395.93 L494.13 396.67 L494.34 397.42 L494.55 398.15 L494.75 398.88 L494.96 399.6 L495.17 400.31 L495.37 401.02 L495.58 401.72 L495.79 402.42 L495.99 403.11 L496.2 403.79 L496.41 404.46 L496.61 405.14 L496.82 405.8 L497.03 406.46 L497.23 407.11 L497.44 407.76 L497.65 408.4 L497.85 409.04 L498.06 409.67 L498.27 410.29 L498.47 410.91 L498.68 411.53 L498.89 412.14 L499.09 412.74 L499.3 413.34 L499.51 413.94 L499.71 414.53 L499.92 415.11 L500.13 415.69 L500.33 416.27 L500.54 416.84 L500.75 417.41 L500.95 417.97 L501.16 418.53 L501.37 419.08 L501.58 419.63 L501.78 420.17 L501.99 420.71 L502.2 421.25 L502.4 421.78 L502.61 422.31 L502.82 422.84 L503.02 423.36 L503.23 423.87 L503.44 424.39 L503.64 424.9 L503.85 425.4 L504.06 425.9 L504.26 426.4 L504.47 426.9 L504.68 427.39 L504.88 427.87 L505.09 428.36 L505.3 428.84 L505.5 429.31 L505.71 429.79 L505.92 430.26 L506.12 430.72 L506.33 431.19 L506.54 431.65 L506.74 432.11 L506.95 432.56 L507.16 433.01 L507.36 433.46 L507.57 433.9 L507.78 434.34 L507.98 434.78 L508.19 435.22 L508.4 435.65 L508.61 436.08 L508.81 436.51 L509.02 436.93 L509.23 437.35 L509.43 437.77 L509.64 438.19 L509.85 438.6 L510.05 439.01 L510.26 439.42 L510.47 439.83 L510.67 440.23 L510.88 440.63 L511.09 441.03 L511.29 441.42 L511.5 441.81 L511.71 442.2 L511.91 442.59 L512.12 442.98 L512.33 443.36 L512.53 443.74 L512.74 444.12 L512.95 444.49 L513.15 444.87 L513.36 445.24 L513.57 445.61 L513.77 445.97 L513.98 446.34 L514.19 446.7 L514.39 447.06 L514.6 447.42 L514.81 447.77 L515.02 448.13 L515.22 448.48 L515.43 448.83 L515.64 449.18 L515.84 449.52 L516.05 449.86 L516.26 450.21 L516.46 450.55 L516.67 450.88 L516.88 451.22 L517.08 451.55 L517.29 451.88 L517.5 452.21 L517.7 452.54 L517.91 452.87 L518.12 453.19 L518.32 453.51 L518.53 453.83 L518.74 454.15 L518.94 454.47 L519.15 454.78 L519.36 455.1 L519.56 455.41 L519.77 455.72 L519.98 456.03 L520.18 456.33 L520.39 456.64 L520.6 456.94 L520.8 457.24 L521.01 457.54 L521.22 457.84 L521.42 458.14 L521.63 458.43 L521.84 458.73 L522.05 459.02 L522.25 459.31 L522.46 459.6 L522.67 459.88 L522.87 460.17 L523.08 460.45 L523.29 460.74 L523.49 461.02 L523.7 461.3 L523.91 461.58 L524.11 461.85 L524.32 462.13 L524.53 462.4 L524.73 462.68 L524.94 462.95 L525.15 463.22 L525.35 463.49 L525.56 463.75 L525.77 464.02 L525.97 464.28 L526.18 464.55 L526.39 464.81 L526.59 465.07 L526.8 465.33 L527.01 465.59 L527.21 465.84 L527.42 466.1 L527.63 466.35 L527.83 466.61 L528.04 466.86 L528.25 467.11 L528.45 467.36 L528.66 467.61 L528.87 467.85 L529.08 468.1 L529.28 468.34 L529.49 468.59 L529.7 468.83 L529.9 469.07 L530.11 469.31 L530.32 469.55 L530.52 469.78 L530.73 470.02 L530.94 470.26 L531.14 470.49 L531.35 470.72 L531.56 470.95 L531.76 471.19 L531.97 471.42 L532.18 471.64 L532.38 471.87 L532.59 472.1 L532.8 472.32 L533 472.55 L533.21 472.77 L533.42 472.99 L533.62 473.22 L533.83 473.44 L534.04 473.66 L534.24 473.87 L534.45 474.09 L534.66 474.31 L534.86 474.52 L535.07 474.74 L535.28 474.95 L535.48 475.16 L535.69 475.38 L535.9 475.59 L536.11 475.8 L536.31 476.01 L536.52 476.21 L536.73 476.42 L536.93 476.63 L537.14 476.83 L537.35 477.04 L537.55 477.24 L537.76 477.44 L537.97 477.64 L538.17 477.84 L538.38 478.04 L538.59 478.24 L538.79 478.44 L539 478.64 L539.21 478.84 L539.41 479.03 L539.62 479.23 L539.83 479.42 L540.03 479.61 L540.24 479.81 L540.45 480 L540.65 480.19 L540.86 480.38 L541.07 480.57 L541.27 480.76 L541.48 480.94 L541.69 481.13 L541.89 481.32 L542.1 481.5 L542.31 481.69 L542.52 481.87 L542.72 482.05 L542.93 482.23 L543.14 482.42 L543.34 482.6 L543.55 482.78 L543.76 482.96 L543.96 483.13 L544.17 483.31 L544.38 483.49 L544.58 483.67 L544.79 483.84 L545 484.02 L545.2 484.19 L545.41 484.36 L545.62 484.54 L545.82 484.71 L546.03 484.88 L546.24 485.05 L546.44 485.22 L546.65 485.39 L546.86 485.56 L547.06 485.73 L547.27 485.89 L547.48 486.06 L547.68 486.23 L547.89 486.39 L548.1 486.56 L548.3 486.72 L548.51 486.89 L548.72 487.05 L548.92 487.21 L549.13 487.37 L549.34 487.53 L549.55 487.69 L549.75 487.85 L549.96 488.01 L550.17 488.17 L550.37 488.33 L550.58 488.49 L550.79 488.64 L550.99 488.8 L551.2 488.96 L551.41 489.11 L551.61 489.27 L551.82 489.42 L552.03 489.57 L552.23 489.73 L552.44 489.88 L552.65 490.03 L552.85 490.18 L553.06 490.33 L553.27 490.48 L553.47 490.63 L553.68 490.78 L553.89 490.93 L554.09 491.08 L554.3 491.22 L554.51 491.37 L554.71 491.52 L554.92 491.66 L555.13 491.81 L555.33 491.95 L555.54 492.09 L555.75 492.24 L555.95 492.38 L556.16 492.52 L556.37 492.67 L556.58 492.81 L556.78 492.95 L556.99 493.09 L557.2 493.23 L557.4 493.37 L557.61 493.51 L557.82 493.65 L558.02 493.78 L558.23 493.92 L558.44 494.06 L558.64 494.19 L558.85 494.33 L559.06 494.47 L559.26 494.6 L559.47 494.74 L559.68 494.87 L559.88 495 L560.09 495.14 L560.3 495.27 L560.5 495.4 L560.71 495.53 L560.92 495.66 L561.12 495.8 L561.33 495.93 L561.54 496.06 L561.74 496.19 L561.95 496.31 L562.16 496.44 L562.36 496.57 L562.57 496.7 L562.78 496.83 L562.98 496.95 L563.19 497.08 L563.4 497.21 L563.61 497.33 L563.81 497.46 L564.02 497.58 L564.23 497.71 L564.43 497.83 L564.64 497.95 L564.85 498.08 L565.05 498.2 L565.26 498.32 L565.47 498.44 L565.67 498.57 L565.88 498.69 L566.09 498.81 L566.29 498.93 L566.5 499.05 L567.33 499.52 L568.16 499.99 L568.98 500.46 L569.81 500.92 L570.64 501.37 L571.47 501.81 L572.29 502.25 L573.12 502.69 L573.95 503.12 L574.78 503.54 L575.61 503.96 L576.43 504.38 L577.26 504.79 L578.09 505.19 L578.92 505.59 L579.74 505.99 L580.57 506.38 L581.4 506.76 L582.23 507.14 L583.06 507.52 L583.88 507.89 L584.71 508.26 L585.54 508.62 L586.37 508.98 L587.19 509.34 L588.02 509.69 L588.85 510.04 L589.68 510.38 L590.51 510.72 L591.33 511.06 L592.16 511.39 L592.99 511.72 L593.82 512.04 L594.64 512.37 L595.47 512.68 L596.3 513 L597.13 513.31 L597.95 513.62 L598.78 513.92 L599.61 514.23 L600.44 514.53 L601.27 514.82 L602.09 515.11 L602.92 515.4 L603.75 515.69 L604.58 515.98 L605.4 516.26 L606.23 516.54 L607.06 516.81 L607.89 517.08 L608.72 517.35 L609.54 517.62 L610.37 517.89 L611.2 518.15 L612.03 518.41 L612.85 518.67 L613.68 518.92 L614.51 519.17 L615.34 519.42 L616.17 519.67 L616.99 519.92 L617.82 520.16 L618.65 520.4 L619.48 520.64 L620.3 520.87 L621.13 521.11 L621.96 521.34 L622.79 521.57 L623.62 521.8 L624.44 522.02 L625.27 522.25 L626.1 522.47 L626.93 522.69 L627.75 522.91 L628.58 523.12 L629.41 523.34 L630.24 523.55 L631.07 523.76 L631.89 523.97 L632.72 524.17 L633.55 524.38 L634.38 524.58 L635.2 524.78 L636.03 524.98 L636.86 525.18 L637.69 525.38 L638.52 525.57 L639.34 525.76 L640.17 525.95 L641 526.14 L641.83 526.33 L642.65 526.52 L643.48 526.7 L644.31 526.89 L645.14 527.07 L645.96 527.25 L646.79 527.43 L647.62 527.61 L648.45 527.78 L649.28 527.96 L650.1 528.13 L650.93 528.3 L651.76 528.47 L652.59 528.64 L653.41 528.81 L654.24 528.98 L655.07 529.14 L655.9 529.3 L656.73 529.47 L657.55 529.63 L658.38 529.79 L659.21 529.95 L660.04 530.1 L660.86 530.26 L661.69 530.42 L662.52 530.57 L663.35 530.72 L664.18 530.88 L665 531.03 L665.83 531.18 L666.66 531.32 L667.49 531.47 L668.31 531.62 L669.14 531.76 L669.97 531.91 L670.8 532.05 L671.63 532.19 L672.45 532.33 L673.28 532.47 L674.11 532.61 L674.94 532.75 L675.76 532.88 L676.59 533.02 L677.42 533.16 L678.25 533.29 L679.08 533.42 L679.9 533.55 L680.73 533.68 L681.56 533.81 L682.39 533.94 L683.21 534.07 L684.04 534.2 L684.87 534.33 L685.7 534.45 L686.53 534.58 L687.35 534.7 L688.18 534.82 L689.01 534.95 L689.84 535.07 L690.66 535.19 L691.49 535.31 L692.32 535.43 L693.15 535.54 L693.97 535.66 L694.8 535.78 L695.63 535.89 L696.46 536.01 L697.29 536.12 L698.11 536.23 L698.94 536.35 L699.77 536.46 L700.6 536.57 L701.42 536.68 L702.25 536.79 L703.08 536.9 L703.91 537.01 L704.74 537.11 L705.56 537.22 L706.39 537.33 L707.22 537.43 L708.05 537.54 L708.87 537.64 L709.7 537.74 L710.53 537.85 L711.36 537.95 L712.19 538.05 L713.01 538.15 L713.84 538.25 L714.67 538.35 L715.5 538.45 L716.32 538.55 L717.15 538.65 L717.98 538.74 L718.81 538.84 L719.64 538.93 L720.46 539.03 L721.29 539.12 L722.12 539.22 L722.95 539.31 L723.77 539.4 L724.6 539.5 L725.43 539.59 L726.26 539.68 L727.09 539.77 L727.91 539.86 L728.74 539.95 L729.57 540.04 L730.4 540.13 L731.22 540.21 L732.05 540.3 L732.88 540.39 L733.71 540.47 L734.54 540.56 L735.36 540.64 L736.19 540.73 L737.02 540.81 L737.85 540.9 L738.67 540.98 L739.5 541.06 L740.33 541.15 L741.16 541.23 L741.98 541.31 L742.81 541.39 L743.64 541.47 L744.47 541.55 L745.3 541.63 L746.12 541.71 L746.95 541.79 L747.78 541.86 L748.61 541.94 L749.43 542.02 L750.26 542.09 L751.09 542.17 L751.92 542.25 L752.75 542.32 L753.57 542.4 L754.4 542.47 L755.23 542.54 L756.06 542.62 L756.88 542.69 L757.71 542.76 L758.54 542.84 L759.37 542.91 L760.2 542.98 L761.02 543.05 L761.85 543.12 L762.68 543.19 L763.51 543.26 L764.33 543.33 L765.16 543.4 L765.99 543.47 L766.82 543.54 L767.65 543.61 L768.47 543.67 L769.3 543.74 L770.13 543.81 L770.96 543.87 L771.78 543.94 L772.61 544.01 L773.44 544.07 L774.27 544.14 L775.1 544.2 L775.92 544.27 L776.75 544.33 L777.58 544.39 L778.41 544.46 L779.23 544.52 L780.06 544.58 L780.89 544.64 L781.72 544.71 L782.55 544.77 L783.37 544.83 L784.2 544.89 L785.03 544.95 L785.86 545.01 L786.68 545.07 L787.51 545.13 L788.34 545.19 L789.17 545.25 L789.99 545.31 L790.82 545.37 L791.65 545.42 L792.48 545.48 L793.31 545.54 L794.13 545.6 L794.96 545.65 L795.79 545.71 L796.62 545.77 L797.44 545.82 L798.27 545.88 L799.1 545.93 L799.93 545.99 L800.76 546.04 L801.58 546.1 L802.41 546.15 L803.24 546.21 L804.07 546.26 L804.89 546.31 L805.72 546.37 L806.55 546.42 L807.38 546.47 L808.21 546.52 L809.03 546.58 L809.86 546.63 L810.69 546.68 L811.52 546.73 L812.34 546.78 L813.17 546.83 L814 546.88" stroke="#000"/>
</g>
<path d="M517 569.7 v-7.2 M517 337.55 v7.2 M550 569.7 v-7.2 M550 337.55 v7.2 M583 569.7 v-7.2 M583 337.55 v7.2 M616 569.7 v-7.2 M616 337.55 v7.2 M649 569.7 v-14.4 M649 337.55 v14.4 M682 569.7 v-7.2 M682 337.55 v7.2 M715 569.7 v-7.2 M715 337.55 v7.2 M748 569.7 v-7.2 M748 337.55 v7.2 M781 569.7 v-7.2 M781 337.55 v7.2 M484 486.79 h14.4 M814 486.79 h-14.4 M484 403.88 h14.4 M814 403.88 h-14.4 M484 528.24 h7.2 M814 528.24 h-7.2 M484 445.33 h7.2 M814 445.33 h-7.2 M484 362.42 h7.2 M814 362.42 h-7.2" stroke="#000" stroke-width="1.6" fill="none"/>
<rect x="484" y="337.55" width="330" height="232.15" fill="none" stroke="#000" stroke-width="1.6" stroke-linejoin="round"/>
<text font-size="26" transform="translate(466.5 578.55) scale(0.930 1)" x="-0.99" y="0">0</text>
<text font-size="26" transform="translate(454.58 495.64) scale(0.930 1)" x="-1.14" y="0">25</text>
<text font-size="26" transform="translate(454.9 412.73) scale(0.930 1)" x="-1.51" y="0">50</text>
<text font-size="26" transform="translate(478.98 594.1) scale(0.930 1)" x="-0.99" y="0">0</text>
<text font-size="26" transform="translate(634.92 594.1) scale(0.930 1)" x="-0.99" y="0">0.5</text>
<text font-size="26" transform="translate(809.84 594.1) scale(0.930 1)" x="-2.29" y="0">1</text>
<text class="i" font-size="32.8" x="318.8" y="105.4">R*=0</text>
<text class="i" font-size="32.8" x="665.6" y="105.3">R*=a/16</text>
<text class="i" font-size="32.8" x="286.6" y="383.8">R*=a/4</text>
<text class="i" font-size="32.8" x="709.8" y="383.8">R*=a</text>
<text class="i" font-size="41" y="44.5"><tspan x="344.3" font-size="27" dy="-16.3">40</tspan><tspan x="373.4" dy="16.3">K-</tspan><tspan x="414.2" font-size="27" dy="-16.3">6</tspan><tspan x="427.7" dy="16.3">Li mixture</tspan></text>
<g transform="translate(38.5 204.5) rotate(-90)"><text font-size="28" transform="translate(0 0) scale(1.279 1)" x="-1.07" y="0">σ</text><text class="i" font-size="20.5" x="16.21" y="10.4">l</text><text class="i" font-size="32" x="35.25" y="0">a</text><text class="i" font-size="21" transform="translate(50.3 -11.4) scale(0.848 1)" x="-0.01" y="0">2</text><path d="M28 0.1 L35.4 -19.1" stroke="#000" stroke-width="1.3"/></g>
<g transform="translate(38.5 483.9) rotate(-90)"><text font-size="28" transform="translate(0 0) scale(1.279 1)" x="-1.07" y="0">σ</text><text class="i" font-size="20.5" x="16.21" y="10.4">l</text><text class="i" font-size="32" x="37.65" y="0">a</text><text class="i" font-size="21" transform="translate(52.7 -11.4) scale(0.848 1)" x="-0.01" y="0">2</text><path d="M30.4 0.1 L37.8 -19.1" stroke="#000" stroke-width="1.3"/></g>
<g transform="translate(0 0)"><text class="i" font-size="32" x="195.88" y="623.4">E</text><text class="i" font-size="23.2" x="214.69" y="635">coll</text><text font-size="32" x="281.77" y="623.4">ε</text><text font-size="23.5" x="295.2" y="636.3">0</text><path d="M277.95 597.3 V631.7" stroke="#000" stroke-width="1.8"/><path d="M310.45 597.3 V631.7" stroke="#000" stroke-width="1.8"/><path d="M257.9 623.8 L266.5 601.9" stroke="#000" stroke-width="1.3"/></g>
<g transform="translate(395.95 0)"><text class="i" font-size="32" x="195.88" y="623.4">E</text><text class="i" font-size="23.2" x="214.69" y="635">coll</text><text font-size="32" x="281.77" y="623.4">ε</text><text font-size="23.5" x="295.2" y="636.3">0</text><path d="M277.95 597.3 V631.7" stroke="#000" stroke-width="1.8"/><path d="M310.45 597.3 V631.7" stroke="#000" stroke-width="1.8"/><path d="M257.9 623.8 L266.5 601.9" stroke="#000" stroke-width="1.3"/></g>
</svg>
</body></html>
